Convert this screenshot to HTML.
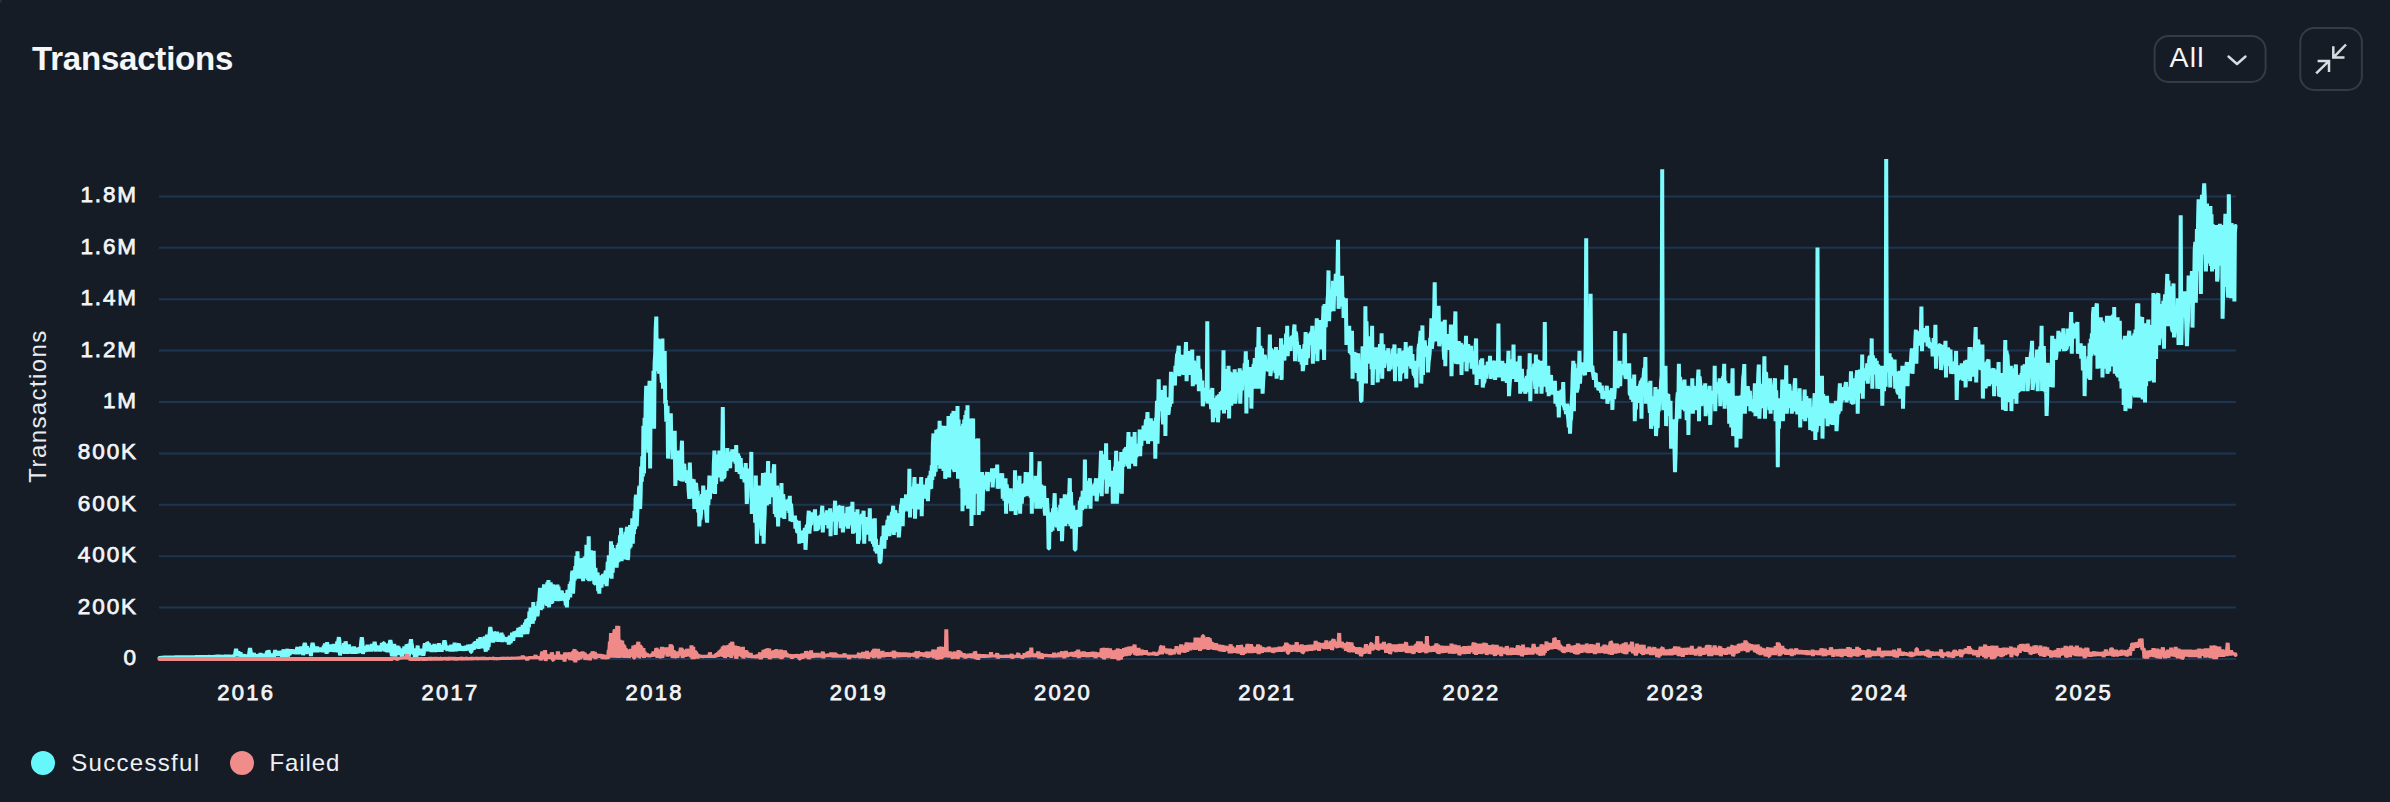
<!DOCTYPE html>
<html><head><meta charset="utf-8"><title>Transactions</title>
<style>
html,body{margin:0;padding:0;background:#161c26;}
body{width:2390px;height:802px;position:relative;overflow:hidden;font-family:"Liberation Sans",sans-serif;}
svg.chart{position:absolute;left:0;top:0;display:block;}
svg.chart text{font-family:"Liberation Sans",sans-serif;fill:#f3f5f7;}
.yl text{font-size:22.5px;font-weight:normal;text-anchor:end;letter-spacing:1.9px;stroke:#f3f5f7;stroke-width:0.75px;}
.xl text{font-size:22px;font-weight:normal;text-anchor:middle;letter-spacing:2.3px;stroke:#f3f5f7;stroke-width:0.75px;}
</style></head><body>
<svg class="chart" width="2390" height="802" viewBox="0 0 2390 802">
<g stroke="#1c3651" stroke-width="2"><line x1="159" x2="2236" y1="659.0" y2="659.0"/><line x1="159" x2="2236" y1="607.6" y2="607.6"/><line x1="159" x2="2236" y1="556.2" y2="556.2"/><line x1="159" x2="2236" y1="504.8" y2="504.8"/><line x1="159" x2="2236" y1="453.4" y2="453.4"/><line x1="159" x2="2236" y1="402.0" y2="402.0"/><line x1="159" x2="2236" y1="350.6" y2="350.6"/><line x1="159" x2="2236" y1="299.2" y2="299.2"/><line x1="159" x2="2236" y1="247.8" y2="247.8"/><line x1="159" x2="2236" y1="196.4" y2="196.4"/></g>
<g class="yl"><text x="138" y="665.0">0</text><text x="138" y="613.6">200K</text><text x="138" y="562.2">400K</text><text x="138" y="510.8">600K</text><text x="138" y="459.4">800K</text><text x="138" y="408.0">1M</text><text x="138" y="356.6">1.2M</text><text x="138" y="305.2">1.4M</text><text x="138" y="253.8">1.6M</text><text x="138" y="202.4">1.8M</text></g>
<g class="xl"><text x="246.3" y="700.2">2016</text><text x="450.5" y="700.2">2017</text><text x="654.7" y="700.2">2018</text><text x="858.9" y="700.2">2019</text><text x="1063.1" y="700.2">2020</text><text x="1267.3" y="700.2">2021</text><text x="1471.5" y="700.2">2022</text><text x="1675.7" y="700.2">2023</text><text x="1879.9" y="700.2">2024</text><text x="2084.1" y="700.2">2025</text></g>
<text transform="translate(46.2 406) rotate(-90)" text-anchor="middle" font-size="24" letter-spacing="1.4" style="fill:#e8ebef">Transactions</text>
<path d="M159.5 657.9 L160.1 657.9 L160.6 657.9 L161.2 657.8 L161.7 657.8 L162.3 657.7 L162.9 657.7 L163.4 657.6 L164.0 657.6 L164.5 657.6 L165.1 657.5 L165.6 657.5 L166.2 657.4 L166.8 657.4 L167.3 657.4 L167.9 657.4 L168.4 657.4 L169.0 657.4 L169.6 657.4 L170.1 657.4 L170.7 657.4 L171.2 657.4 L171.8 657.4 L172.4 657.4 L172.9 657.4 L173.5 657.4 L174.0 657.4 L174.6 657.4 L175.1 657.3 L175.7 657.3 L176.3 657.3 L176.8 657.3 L177.4 657.3 L177.9 657.3 L178.5 657.3 L179.1 657.3 L179.6 657.3 L180.2 657.3 L180.7 657.3 L181.3 657.3 L181.9 657.3 L182.4 657.3 L183.0 657.3 L183.5 657.3 L184.1 657.3 L184.6 657.3 L185.2 657.3 L185.8 657.3 L186.3 657.3 L186.9 657.3 L187.4 657.3 L188.0 657.3 L188.6 657.3 L189.1 657.3 L189.7 657.3 L190.2 657.2 L190.8 657.2 L191.4 657.2 L191.9 657.2 L192.5 657.2 L193.0 657.2 L193.6 657.2 L194.1 657.2 L194.7 657.2 L195.3 657.1 L195.8 657.1 L196.4 657.1 L196.9 657.1 L197.5 657.1 L198.1 657.1 L198.6 657.0 L199.2 657.1 L199.7 656.9 L200.3 657.1 L200.9 656.9 L201.4 657.1 L202.0 656.9 L202.5 657.0 L203.1 656.7 L203.6 657.0 L204.2 656.7 L204.8 657.0 L205.3 656.6 L205.9 657.0 L206.4 656.5 L207.0 657.1 L207.6 656.4 L208.1 657.0 L208.7 656.4 L209.2 656.9 L209.8 656.4 L210.4 657.0 L210.9 656.2 L211.5 657.1 L212.0 656.3 L212.6 657.1 L213.1 656.4 L213.7 656.9 L214.3 656.2 L214.8 656.8 L215.4 655.7 L215.9 656.7 L216.5 655.9 L217.1 656.6 L217.6 655.9 L218.2 656.6 L218.7 655.6 L219.3 656.7 L219.9 655.7 L220.4 656.5 L221.0 655.8 L221.5 656.7 L222.1 656.1 L222.6 656.7 L223.2 656.2 L223.8 656.7 L224.3 656.1 L224.9 656.5 L225.4 656.3 L226.0 656.7 L226.6 656.3 L227.1 656.6 L227.7 656.5 L228.2 656.7 L228.8 656.5 L229.4 656.7 L229.9 656.5 L230.5 656.7 L231.0 656.3 L231.6 656.7 L232.1 656.1 L232.7 656.6 L233.3 655.7 L233.8 656.3 L234.4 655.2 L234.9 656.2 L235.5 651.9 L236.1 648.9 L236.6 651.7 L237.2 655.9 L237.7 654.2 L238.3 651.4 L238.9 654.3 L239.4 656.3 L240.0 654.9 L240.5 652.2 L241.1 657.7 L241.6 657.5 L242.2 655.2 L242.8 659.5 L243.3 654.2 L243.9 656.3 L244.4 654.6 L245.0 656.6 L245.6 655.3 L246.1 656.0 L246.7 655.4 L247.2 656.6 L247.8 655.2 L248.4 656.4 L248.9 655.3 L249.5 651.3 L250.0 648.0 L250.6 651.2 L251.1 654.5 L251.7 656.4 L252.3 652.7 L252.8 656.9 L253.4 655.2 L253.9 653.1 L254.5 657.7 L255.1 656.8 L255.6 655.0 L256.2 657.2 L256.7 654.8 L257.3 656.9 L257.9 654.3 L258.4 657.9 L259.0 654.1 L259.5 657.6 L260.1 655.4 L260.6 653.1 L261.2 657.7 L261.8 657.3 L262.3 654.6 L262.9 657.6 L263.4 654.7 L264.0 656.7 L264.6 653.9 L265.1 656.3 L265.7 654.5 L266.2 656.6 L266.8 652.6 L267.4 651.4 L267.9 657.2 L268.5 650.2 L269.0 652.5 L269.6 656.4 L270.1 659.0 L270.7 657.0 L271.3 653.5 L271.8 656.3 L272.4 653.9 L272.9 656.3 L273.5 653.9 L274.1 656.8 L274.6 653.1 L275.2 650.1 L275.7 653.1 L276.3 655.0 L276.9 653.8 L277.4 655.0 L278.0 653.1 L278.5 655.9 L279.1 650.9 L279.6 655.1 L280.2 653.2 L280.8 654.7 L281.3 650.8 L281.9 655.8 L282.4 658.0 L283.0 656.1 L283.6 649.3 L284.1 655.9 L284.7 651.1 L285.2 655.5 L285.8 658.3 L286.4 654.5 L286.9 651.9 L287.5 648.9 L288.0 655.6 L288.6 655.2 L289.1 650.3 L289.7 654.9 L290.3 650.1 L290.8 653.5 L291.4 649.3 L291.9 653.4 L292.5 651.0 L293.1 652.6 L293.6 650.1 L294.2 654.0 L294.7 649.5 L295.3 653.3 L295.9 650.2 L296.4 654.2 L297.0 648.6 L297.5 647.2 L298.1 653.9 L298.6 652.0 L299.2 649.6 L299.8 652.6 L300.3 649.8 L300.9 646.5 L301.4 649.4 L302.0 654.1 L302.6 646.4 L303.1 655.2 L303.7 650.2 L304.2 645.2 L304.8 643.0 L305.4 645.2 L305.9 649.3 L306.5 654.1 L307.0 646.1 L307.6 653.2 L308.1 648.3 L308.7 652.4 L309.3 649.8 L309.8 651.6 L310.4 648.2 L310.9 656.0 L311.5 648.3 L312.1 645.2 L312.6 643.0 L313.2 645.2 L313.7 647.4 L314.3 652.3 L314.9 647.4 L315.4 652.0 L316.0 647.7 L316.5 652.4 L317.1 646.4 L317.6 652.2 L318.2 648.4 L318.8 651.1 L319.3 647.5 L319.9 651.3 L320.4 647.5 L321.0 651.6 L321.6 647.7 L322.1 651.9 L322.7 647.5 L323.2 652.3 L323.8 645.8 L324.4 652.1 L324.9 643.4 L325.5 652.3 L326.0 644.4 L326.6 653.8 L327.1 642.2 L327.7 652.2 L328.3 646.5 L328.8 651.9 L329.4 644.4 L329.9 650.9 L330.5 645.5 L331.1 651.6 L331.6 644.3 L332.2 651.5 L332.7 645.7 L333.3 651.7 L333.9 643.8 L334.4 652.2 L335.0 644.9 L335.5 650.3 L336.1 647.1 L336.6 651.4 L337.2 641.4 L337.8 652.3 L338.3 640.8 L338.9 637.2 L339.4 640.8 L340.0 655.5 L340.6 647.7 L341.1 651.0 L341.7 645.7 L342.2 650.6 L342.8 646.1 L343.4 652.9 L343.9 643.0 L344.5 653.9 L345.0 646.2 L345.6 641.4 L346.1 644.9 L346.7 650.7 L347.3 646.2 L347.8 653.8 L348.4 648.4 L348.9 644.6 L349.5 647.5 L350.1 651.1 L350.6 646.9 L351.2 652.9 L351.7 649.3 L352.3 653.8 L352.9 647.1 L353.4 652.2 L354.0 646.4 L354.5 653.9 L355.1 648.5 L355.6 653.8 L356.2 647.8 L356.8 653.2 L357.3 647.6 L357.9 653.2 L358.4 647.9 L359.0 651.7 L359.6 647.2 L360.1 652.9 L360.7 647.5 L361.2 641.8 L361.8 637.2 L362.4 641.7 L362.9 653.9 L363.5 651.1 L364.0 646.4 L364.6 652.1 L365.1 646.3 L365.7 650.4 L366.3 646.2 L366.8 651.7 L367.4 644.7 L367.9 651.4 L368.5 645.7 L369.1 651.5 L369.6 646.3 L370.2 650.3 L370.7 647.6 L371.3 651.5 L371.8 643.9 L372.4 649.4 L373.0 645.2 L373.5 650.5 L374.1 645.2 L374.6 641.9 L375.2 645.1 L375.8 651.6 L376.3 645.4 L376.9 650.2 L377.4 647.1 L378.0 650.8 L378.6 645.8 L379.1 649.7 L379.7 646.4 L380.2 651.6 L380.8 645.5 L381.3 650.2 L381.9 643.0 L382.5 649.2 L383.0 645.2 L383.6 643.1 L384.1 643.0 L384.7 651.4 L385.3 644.0 L385.8 651.6 L386.4 644.3 L386.9 652.0 L387.5 643.8 L388.1 652.3 L388.6 643.5 L389.2 651.6 L389.7 643.5 L390.3 640.1 L390.8 642.2 L391.4 652.7 L392.0 656.1 L392.5 653.1 L393.1 645.1 L393.6 651.9 L394.2 643.9 L394.8 652.4 L395.3 656.4 L395.9 651.5 L396.4 647.1 L397.0 652.5 L397.6 645.5 L398.1 655.2 L398.7 646.7 L399.2 654.2 L399.8 648.3 L400.3 654.3 L400.9 648.8 L401.5 653.4 L402.0 657.8 L402.6 652.9 L403.1 649.8 L403.7 653.3 L404.3 646.4 L404.8 653.9 L405.4 648.6 L405.9 654.0 L406.5 644.7 L407.1 645.5 L407.6 648.2 L408.2 654.0 L408.7 656.6 L409.3 652.7 L409.8 647.7 L410.4 643.2 L411.0 639.3 L411.5 643.1 L412.1 646.9 L412.6 653.7 L413.2 649.4 L413.8 654.4 L414.3 648.4 L414.9 657.9 L415.4 649.1 L416.0 654.6 L416.6 656.6 L417.1 652.3 L417.7 645.5 L418.2 655.2 L418.8 649.0 L419.3 654.0 L419.9 648.7 L420.5 654.3 L421.0 648.6 L421.6 653.0 L422.1 655.0 L422.7 651.7 L423.3 655.7 L423.8 652.9 L424.4 646.1 L424.9 643.5 L425.5 646.4 L426.1 651.2 L426.6 645.8 L427.2 642.7 L427.7 643.0 L428.3 651.4 L428.8 643.1 L429.4 649.4 L430.0 645.3 L430.5 650.8 L431.1 645.4 L431.6 652.0 L432.2 644.8 L432.8 651.6 L433.3 644.8 L433.9 651.1 L434.4 643.8 L435.0 652.2 L435.6 644.9 L436.1 649.5 L436.7 645.9 L437.2 650.8 L437.8 645.5 L438.3 651.8 L438.9 643.2 L439.5 651.6 L440.0 646.4 L440.6 651.5 L441.1 645.8 L441.7 651.8 L442.3 645.3 L442.8 649.8 L443.4 645.3 L443.9 642.9 L444.5 640.5 L445.1 642.9 L445.6 646.1 L446.2 649.5 L446.7 645.7 L447.3 650.9 L447.8 645.8 L448.4 649.7 L449.0 646.2 L449.5 650.6 L450.1 646.0 L450.6 651.5 L451.2 644.7 L451.8 651.4 L452.3 646.3 L452.9 651.5 L453.4 646.2 L454.0 650.4 L454.6 642.6 L455.1 650.8 L455.7 646.4 L456.2 651.2 L456.8 647.0 L457.3 649.2 L457.9 645.9 L458.5 644.5 L459.0 643.7 L459.6 650.8 L460.1 645.8 L460.7 650.3 L461.3 647.6 L461.8 650.7 L462.4 646.2 L462.9 650.8 L463.5 647.4 L464.1 650.5 L464.6 646.2 L465.2 650.7 L465.7 645.8 L466.3 649.9 L466.8 645.7 L467.4 650.5 L468.0 644.7 L468.5 650.5 L469.1 645.9 L469.6 648.5 L470.2 644.5 L470.8 651.9 L471.3 651.9 L471.9 649.2 L472.4 644.1 L473.0 649.8 L473.6 643.4 L474.1 649.5 L474.7 641.8 L475.2 647.3 L475.8 641.2 L476.3 647.6 L476.9 641.2 L477.5 647.8 L478.0 638.8 L478.6 648.9 L479.1 640.4 L479.7 646.7 L480.3 637.1 L480.8 647.0 L481.4 640.5 L481.9 648.4 L482.5 638.2 L483.1 647.2 L483.6 640.0 L484.2 647.2 L484.7 636.3 L485.3 648.0 L485.8 651.6 L486.4 645.2 L487.0 634.6 L487.5 650.2 L488.1 636.2 L488.6 647.1 L489.2 638.1 L489.8 631.1 L490.3 627.1 L490.9 631.0 L491.4 638.6 L492.0 641.8 L492.6 634.6 L493.1 642.5 L493.7 634.4 L494.2 632.1 L494.8 633.0 L495.3 641.3 L495.9 636.6 L496.5 640.4 L497.0 631.7 L497.6 641.7 L498.1 634.4 L498.7 641.9 L499.3 634.2 L499.8 641.7 L500.4 633.9 L500.9 639.9 L501.5 632.6 L502.1 642.2 L502.6 634.7 L503.2 639.5 L503.7 637.2 L504.3 640.6 L504.8 637.2 L505.4 640.9 L506.0 637.8 L506.5 642.1 L507.1 637.2 L507.6 641.8 L508.2 637.3 L508.8 644.6 L509.3 637.3 L509.9 636.3 L510.4 643.0 L511.0 641.1 L511.6 637.2 L512.1 632.8 L512.7 636.9 L513.2 640.8 L513.8 634.8 L514.3 631.8 L514.9 632.7 L515.5 637.0 L516.0 631.5 L516.6 636.7 L517.1 630.6 L517.7 635.1 L518.3 627.9 L518.8 637.2 L519.4 628.4 L519.9 636.3 L520.5 627.0 L521.1 637.2 L521.6 627.9 L522.2 634.5 L522.7 624.8 L523.3 634.4 L523.8 626.4 L524.4 633.5 L525.0 622.6 L525.5 631.7 L526.1 621.1 L526.6 619.6 L527.2 633.8 L527.8 630.8 L528.3 618.1 L528.9 627.5 L529.4 611.5 L530.0 622.3 L530.6 607.6 L531.1 623.4 L531.7 610.9 L532.2 619.9 L532.8 623.6 L533.3 602.0 L533.9 620.4 L534.5 616.8 L535.0 607.9 L535.6 616.3 L536.1 608.4 L536.7 606.2 L537.3 616.2 L537.8 613.9 L538.4 601.4 L538.9 605.7 L539.5 595.4 L540.1 587.8 L540.6 609.5 L541.2 608.4 L541.7 591.3 L542.3 608.6 L542.8 588.8 L543.4 602.2 L544.0 584.3 L544.5 604.2 L545.1 585.2 L545.6 600.2 L546.2 586.5 L546.8 605.8 L547.3 582.2 L547.9 606.0 L548.4 580.0 L549.0 607.4 L549.6 587.0 L550.1 604.1 L550.7 582.2 L551.2 604.0 L551.8 585.6 L552.3 603.2 L552.9 584.3 L553.5 596.9 L554.0 585.3 L554.6 598.1 L555.1 587.9 L555.7 600.9 L556.3 585.7 L556.8 600.3 L557.4 584.5 L557.9 601.2 L558.5 586.7 L559.1 600.9 L559.6 592.3 L560.2 600.9 L560.7 590.4 L561.3 599.9 L561.8 590.7 L562.4 599.0 L563.0 593.3 L563.5 599.9 L564.1 595.9 L564.6 601.0 L565.2 597.4 L565.8 605.4 L566.3 593.2 L566.9 607.4 L567.4 589.7 L568.0 599.6 L568.6 590.6 L569.1 596.8 L569.7 584.0 L570.2 597.3 L570.8 581.6 L571.3 593.8 L571.9 574.3 L572.5 570.8 L573.0 593.7 L573.6 583.9 L574.1 570.5 L574.7 580.5 L575.3 566.2 L575.8 575.8 L576.4 556.0 L576.9 573.4 L577.5 551.3 L578.1 578.7 L578.6 558.4 L579.2 576.3 L579.7 562.1 L580.3 572.8 L580.8 562.5 L581.4 578.7 L582.0 560.8 L582.5 558.3 L583.1 581.2 L583.6 574.9 L584.2 557.5 L584.8 577.5 L585.3 556.3 L585.9 578.4 L586.4 544.7 L587.0 570.1 L587.6 545.5 L588.1 579.9 L588.7 536.3 L589.2 581.2 L589.8 552.7 L590.3 574.1 L590.9 550.4 L591.5 580.7 L592.0 552.3 L592.6 579.9 L593.1 559.5 L593.7 550.8 L594.3 583.7 L594.8 583.6 L595.4 567.8 L595.9 579.0 L596.5 572.4 L597.1 582.8 L597.6 572.5 L598.2 591.1 L598.7 575.7 L599.3 593.7 L599.8 580.4 L600.4 587.6 L601.0 575.3 L601.5 587.6 L602.1 578.6 L602.6 584.0 L603.2 573.9 L603.8 583.6 L604.3 574.3 L604.9 582.4 L605.4 572.5 L606.0 570.8 L606.6 586.2 L607.1 577.5 L607.7 561.8 L608.2 576.7 L608.8 555.4 L609.3 577.7 L609.9 559.6 L610.5 576.1 L611.0 541.3 L611.6 578.7 L612.1 544.8 L612.7 572.7 L613.3 548.1 L613.8 563.0 L614.4 554.3 L614.9 566.8 L615.5 551.3 L616.1 550.8 L616.6 567.5 L617.2 558.9 L617.7 545.0 L618.3 562.2 L618.8 543.4 L619.4 560.3 L620.0 535.2 L620.5 556.8 L621.1 527.9 L621.6 561.3 L622.2 537.8 L622.8 550.0 L623.3 539.9 L623.9 557.7 L624.4 534.2 L625.0 559.4 L625.6 531.7 L626.1 559.2 L626.7 529.0 L627.2 527.1 L627.8 560.0 L628.3 555.2 L628.9 531.2 L629.5 548.6 L630.0 525.1 L630.6 547.1 L631.1 527.9 L631.7 538.0 L632.3 518.4 L632.8 543.8 L633.4 518.4 L633.9 534.3 L634.5 510.7 L635.1 529.2 L635.6 498.6 L636.2 494.7 L636.7 526.4 L637.3 513.1 L637.8 496.5 L638.4 508.2 L639.0 488.6 L639.5 486.0 L640.1 508.9 L640.6 496.1 L641.2 466.5 L641.8 481.7 L642.3 456.4 L642.9 476.5 L643.4 425.7 L644.0 473.6 L644.6 417.7 L645.1 449.3 L645.7 402.5 L646.2 385.8 L646.8 438.7 L647.3 426.3 L647.9 391.0 L648.5 452.8 L649.0 392.9 L649.6 380.8 L650.1 468.6 L650.7 396.3 L651.3 383.8 L651.8 381.9 L652.4 400.5 L652.9 417.0 L653.5 370.8 L654.1 428.7 L654.6 363.3 L655.2 353.8 L655.7 328.9 L656.3 316.5 L656.8 371.3 L657.4 339.8 L658.0 339.5 L658.5 340.9 L659.1 373.8 L659.6 364.6 L660.2 349.3 L660.8 357.3 L661.3 373.8 L661.9 382.6 L662.4 338.4 L663.0 388.8 L663.6 357.3 L664.1 371.4 L664.7 350.9 L665.2 403.7 L665.8 400.1 L666.3 421.7 L666.9 418.5 L667.5 405.7 L668.0 458.6 L668.6 422.6 L669.1 440.5 L669.7 420.3 L670.3 418.6 L670.8 413.2 L671.4 448.6 L671.9 439.2 L672.5 459.2 L673.1 455.3 L673.6 437.3 L674.2 436.3 L674.7 430.7 L675.3 486.0 L675.8 477.3 L676.4 454.1 L677.0 468.9 L677.5 465.0 L678.1 463.3 L678.6 450.6 L679.2 479.6 L679.8 479.2 L680.3 474.4 L680.9 463.2 L681.4 453.2 L682.0 440.7 L682.6 481.5 L683.1 475.2 L683.7 464.9 L684.2 464.0 L684.8 472.1 L685.3 471.6 L685.9 470.6 L686.5 474.0 L687.0 482.9 L687.6 476.3 L688.1 479.2 L688.7 491.3 L689.3 498.9 L689.8 462.6 L690.4 479.5 L690.9 485.6 L691.5 498.4 L692.1 478.8 L692.6 497.6 L693.2 485.8 L693.7 479.2 L694.3 508.9 L694.8 482.8 L695.4 486.7 L696.0 483.0 L696.5 489.2 L697.1 505.8 L697.6 490.7 L698.2 512.4 L698.8 497.1 L699.3 526.4 L699.9 516.2 L700.4 519.5 L701.0 513.7 L701.6 499.7 L702.1 494.3 L702.7 509.6 L703.2 485.5 L703.8 495.3 L704.3 490.7 L704.9 495.8 L705.5 501.5 L706.0 508.8 L706.6 518.4 L707.1 522.6 L707.7 489.7 L708.3 505.1 L708.8 495.5 L709.4 475.6 L709.9 499.3 L710.5 480.6 L711.1 492.1 L711.6 476.9 L712.2 493.4 L712.7 478.7 L713.3 492.3 L713.8 464.8 L714.4 450.6 L715.0 493.9 L715.5 466.4 L716.1 483.9 L716.6 467.2 L717.2 454.6 L717.8 461.6 L718.3 477.3 L718.9 468.2 L719.4 450.6 L720.0 467.3 L720.6 460.9 L721.1 455.6 L721.7 481.5 L722.2 457.5 L722.8 407.0 L723.3 477.5 L723.9 477.3 L724.5 477.0 L725.0 460.4 L725.6 467.5 L726.1 457.9 L726.7 470.9 L727.3 448.1 L727.8 456.2 L728.4 451.7 L728.9 466.4 L729.5 463.5 L730.1 468.2 L730.6 457.0 L731.2 458.1 L731.7 457.1 L732.3 449.4 L732.8 459.7 L733.4 461.2 L734.0 452.3 L734.5 450.1 L735.1 450.3 L735.6 463.8 L736.2 445.1 L736.8 472.0 L737.3 458.8 L737.9 453.6 L738.4 457.1 L739.0 455.7 L739.6 474.0 L740.1 470.4 L740.7 458.1 L741.2 471.0 L741.8 478.9 L742.3 467.7 L742.9 476.2 L743.5 478.8 L744.0 476.5 L744.6 482.3 L745.1 478.3 L745.7 463.1 L746.3 482.8 L746.8 503.9 L747.4 495.8 L747.9 473.3 L748.5 468.5 L749.1 484.2 L749.6 470.0 L750.2 483.1 L750.7 486.4 L751.3 451.9 L751.8 513.9 L752.4 499.4 L753.0 497.9 L753.5 494.6 L754.1 496.7 L754.6 500.1 L755.2 522.8 L755.8 475.6 L756.3 505.2 L756.9 543.8 L757.4 521.3 L758.0 500.3 L758.6 494.2 L759.1 495.4 L759.7 485.5 L760.2 497.5 L760.8 492.9 L761.3 528.2 L761.9 535.6 L762.5 493.0 L763.0 473.1 L763.6 543.8 L764.1 525.7 L764.7 513.7 L765.3 481.8 L765.8 472.5 L766.4 476.4 L766.9 505.5 L767.5 485.9 L768.1 461.1 L768.6 498.7 L769.2 503.9 L769.7 477.6 L770.3 473.4 L770.8 496.4 L771.4 479.5 L772.0 497.1 L772.5 492.9 L773.1 479.0 L773.6 469.4 L774.2 464.3 L774.8 513.9 L775.3 491.3 L775.9 512.9 L776.4 517.0 L777.0 485.5 L777.6 502.3 L778.1 526.4 L778.7 499.1 L779.2 497.9 L779.8 508.8 L780.3 493.4 L780.9 496.2 L781.5 483.0 L782.0 517.7 L782.6 505.6 L783.1 494.2 L783.7 500.4 L784.3 518.9 L784.8 504.0 L785.4 503.4 L785.9 499.9 L786.5 508.1 L787.0 510.4 L787.6 506.4 L788.2 500.9 L788.7 499.3 L789.3 512.8 L789.8 495.7 L790.4 521.1 L791.0 503.6 L791.5 509.4 L792.1 519.0 L792.6 521.7 L793.2 519.3 L793.8 516.6 L794.3 521.8 L794.9 515.7 L795.4 528.6 L796.0 519.8 L796.5 525.7 L797.1 531.6 L797.7 532.3 L798.2 528.5 L798.8 520.7 L799.3 543.6 L799.9 535.8 L800.5 537.9 L801.0 540.6 L801.6 542.6 L802.1 531.1 L802.7 531.7 L803.3 532.3 L803.8 533.5 L804.4 532.2 L804.9 528.1 L805.5 549.8 L806.0 541.2 L806.6 526.3 L807.2 525.2 L807.7 530.2 L808.3 517.2 L808.8 510.7 L809.4 533.6 L810.0 526.4 L810.5 515.2 L811.1 525.2 L811.6 516.3 L812.2 512.6 L812.8 517.5 L813.3 521.0 L813.9 520.2 L814.4 515.3 L815.0 509.4 L815.5 531.1 L816.1 519.8 L816.7 524.7 L817.2 528.3 L817.8 528.9 L818.3 528.9 L818.9 515.8 L819.5 519.9 L820.0 522.6 L820.6 514.8 L821.1 524.9 L821.7 512.8 L822.3 505.7 L822.8 532.4 L823.4 521.9 L823.9 517.8 L824.5 519.7 L825.0 513.4 L825.6 524.8 L826.2 518.2 L826.7 512.7 L827.3 510.6 L827.8 516.7 L828.4 528.5 L829.0 521.9 L829.5 527.3 L830.1 508.2 L830.6 536.1 L831.2 512.7 L831.8 514.7 L832.3 512.6 L832.9 515.4 L833.4 514.8 L834.0 521.4 L834.5 512.0 L835.1 500.7 L835.7 534.9 L836.2 517.3 L836.8 521.2 L837.3 508.7 L837.9 512.5 L838.5 506.4 L839.0 506.7 L839.6 507.0 L840.1 514.8 L840.7 528.2 L841.3 525.9 L841.8 518.4 L842.4 505.7 L842.9 532.4 L843.5 525.2 L844.0 513.3 L844.6 519.6 L845.2 523.5 L845.7 514.9 L846.3 519.8 L846.8 526.4 L847.4 506.9 L848.0 528.6 L848.5 523.8 L849.1 511.3 L849.6 525.2 L850.2 510.6 L850.8 506.6 L851.3 517.2 L851.9 519.3 L852.4 501.9 L853.0 533.6 L853.5 518.2 L854.1 512.2 L854.7 517.8 L855.2 532.6 L855.8 523.8 L856.3 518.8 L856.9 518.5 L857.5 509.4 L858.0 543.6 L858.6 539.7 L859.1 540.0 L859.7 522.4 L860.3 523.7 L860.8 515.4 L861.4 520.2 L861.9 513.9 L862.5 521.0 L863.0 517.6 L863.6 510.7 L864.2 543.6 L864.7 530.2 L865.3 532.7 L865.8 533.9 L866.4 517.2 L867.0 534.6 L867.5 517.0 L868.1 528.3 L868.6 534.2 L869.2 530.5 L869.8 508.2 L870.3 541.1 L870.9 518.8 L871.4 525.6 L872.0 535.5 L872.5 541.0 L873.1 543.6 L873.7 540.3 L874.2 546.5 L874.8 518.2 L875.3 551.1 L875.9 538.9 L876.5 551.4 L877.0 553.1 L877.6 545.2 L878.1 550.8 L878.7 548.6 L879.3 554.2 L879.8 562.3 L880.4 562.3 L880.9 555.6 L881.5 543.0 L882.0 537.9 L882.6 537.0 L883.2 545.3 L883.7 525.6 L884.3 548.6 L884.8 534.6 L885.4 537.0 L886.0 539.8 L886.5 525.4 L887.1 525.6 L887.6 519.9 L888.2 523.9 L888.8 515.7 L889.3 536.1 L889.9 530.3 L890.4 520.9 L891.0 520.2 L891.5 515.6 L892.1 512.5 L892.7 512.6 L893.2 505.7 L893.8 534.9 L894.3 516.4 L894.9 510.9 L895.5 511.7 L896.0 518.2 L896.6 521.7 L897.1 532.2 L897.7 519.9 L898.3 513.2 L898.8 537.4 L899.4 529.3 L899.9 518.1 L900.5 512.7 L901.0 505.8 L901.6 504.3 L902.2 498.2 L902.7 526.1 L903.3 500.5 L903.8 511.5 L904.4 506.1 L905.0 508.6 L905.5 503.0 L906.1 494.5 L906.6 508.7 L907.2 497.4 L907.8 508.8 L908.3 511.1 L908.9 500.9 L909.4 468.8 L910.0 517.4 L910.5 486.9 L911.1 503.0 L911.7 506.0 L912.2 492.8 L912.8 493.1 L913.3 508.7 L913.9 489.7 L914.5 477.0 L915.0 518.7 L915.6 501.9 L916.1 492.4 L916.7 490.7 L917.3 483.8 L917.8 491.7 L918.4 506.9 L918.9 509.1 L919.5 503.0 L920.0 488.8 L920.6 491.1 L921.2 477.0 L921.7 516.2 L922.3 488.5 L922.8 491.2 L923.4 486.5 L924.0 486.5 L924.5 487.7 L925.1 498.7 L925.6 493.0 L926.2 490.3 L926.8 483.8 L927.3 478.3 L927.9 501.2 L928.4 490.3 L929.0 479.1 L929.5 475.8 L930.1 489.3 L930.7 470.8 L931.2 488.7 L931.8 465.2 L932.3 480.0 L932.9 443.2 L933.5 433.4 L934.0 476.3 L934.6 469.1 L935.1 444.4 L935.7 471.6 L936.3 429.8 L936.8 459.9 L937.4 441.8 L937.9 460.5 L938.5 428.9 L939.0 464.9 L939.6 420.9 L940.2 468.8 L940.7 425.5 L941.3 465.4 L941.8 435.5 L942.4 465.4 L943.0 425.8 L943.5 471.1 L944.1 428.3 L944.6 425.9 L945.2 478.8 L945.8 466.9 L946.3 427.8 L946.9 470.5 L947.4 425.7 L948.0 469.7 L948.5 415.9 L949.1 477.5 L949.7 417.1 L950.2 469.5 L950.8 425.3 L951.3 466.4 L951.9 413.4 L952.5 462.9 L953.0 415.6 L953.6 410.9 L954.1 470.0 L954.7 471.7 L955.3 432.6 L955.8 467.2 L956.4 411.3 L956.9 463.7 L957.5 405.9 L958.0 478.8 L958.6 419.5 L959.2 477.1 L959.7 441.4 L960.3 478.3 L960.8 427.8 L961.4 488.3 L962.0 425.9 L962.5 511.2 L963.1 423.7 L963.6 505.7 L964.2 419.5 L964.8 478.8 L965.3 414.9 L965.9 477.0 L966.4 410.4 L967.0 505.0 L967.5 405.2 L968.1 508.7 L968.7 422.8 L969.2 483.3 L969.8 423.8 L970.3 503.4 L970.9 418.4 L971.5 526.1 L972.0 445.2 L972.6 440.5 L973.1 418.4 L973.7 514.9 L974.3 450.9 L974.8 493.6 L975.4 449.3 L975.9 444.2 L976.5 438.8 L977.0 456.4 L977.6 465.9 L978.2 438.4 L978.7 514.9 L979.3 507.7 L979.8 480.4 L980.4 484.0 L981.0 504.2 L981.5 507.3 L982.1 472.0 L982.6 511.2 L983.2 482.4 L983.8 481.6 L984.3 475.3 L984.9 486.4 L985.4 489.2 L986.0 485.0 L986.5 478.3 L987.1 472.0 L987.7 491.2 L988.2 478.7 L988.8 481.2 L989.3 476.6 L989.9 472.5 L990.5 474.8 L991.0 481.8 L991.6 475.8 L992.1 468.3 L992.7 487.5 L993.3 474.8 L993.8 475.8 L994.4 471.9 L994.9 468.7 L995.5 469.4 L996.0 475.9 L996.6 477.7 L997.2 464.5 L997.7 488.7 L998.3 482.9 L998.8 476.1 L999.4 473.3 L1000.0 488.0 L1000.5 487.2 L1001.1 483.9 L1001.6 477.7 L1002.2 473.3 L1002.8 498.7 L1003.3 493.7 L1003.9 492.6 L1004.4 500.6 L1005.0 490.8 L1005.5 478.3 L1006.1 513.7 L1006.7 484.4 L1007.2 491.1 L1007.8 502.9 L1008.3 497.3 L1008.9 495.9 L1009.5 498.3 L1010.0 503.3 L1010.6 488.2 L1011.1 511.2 L1011.7 500.7 L1012.3 493.8 L1012.8 504.6 L1013.4 499.1 L1013.9 508.7 L1014.5 510.3 L1015.0 470.3 L1015.6 514.9 L1016.2 497.7 L1016.7 480.4 L1017.3 503.3 L1017.8 509.9 L1018.4 503.1 L1019.0 508.1 L1019.5 475.8 L1020.1 513.7 L1020.6 495.4 L1021.2 497.4 L1021.8 503.6 L1022.3 487.1 L1022.9 484.2 L1023.4 497.2 L1024.0 488.4 L1024.5 483.1 L1025.1 488.2 L1025.7 472.0 L1026.2 496.2 L1026.8 473.0 L1027.3 478.6 L1027.9 495.5 L1028.5 488.6 L1029.0 480.9 L1029.6 480.7 L1030.1 472.2 L1030.7 497.7 L1031.3 452.1 L1031.8 513.7 L1032.4 480.3 L1032.9 485.6 L1033.5 498.7 L1034.0 502.1 L1034.6 487.2 L1035.2 492.2 L1035.7 475.8 L1036.3 508.7 L1036.8 481.8 L1037.4 491.0 L1038.0 502.7 L1038.5 492.9 L1039.1 472.7 L1039.6 461.3 L1040.2 508.7 L1040.8 494.7 L1041.3 484.7 L1041.9 494.8 L1042.4 488.4 L1043.0 504.4 L1043.5 506.5 L1044.1 485.7 L1044.7 511.2 L1045.2 515.4 L1045.8 512.4 L1046.3 506.4 L1046.9 498.0 L1047.5 507.8 L1048.0 514.3 L1048.6 548.6 L1049.1 548.6 L1049.7 512.4 L1050.3 518.1 L1050.8 531.8 L1051.4 522.7 L1051.9 521.6 L1052.5 530.6 L1053.0 508.3 L1053.6 517.9 L1054.2 503.0 L1054.7 493.2 L1055.3 526.1 L1055.8 507.3 L1056.4 522.9 L1057.0 527.2 L1057.5 513.0 L1058.1 518.8 L1058.6 528.2 L1059.2 530.7 L1059.8 518.6 L1060.3 504.9 L1060.9 525.7 L1061.4 498.2 L1062.0 541.1 L1062.5 526.5 L1063.1 517.8 L1063.7 515.8 L1064.2 513.9 L1064.8 494.4 L1065.3 526.1 L1065.9 504.3 L1066.5 520.1 L1067.0 519.9 L1067.6 522.0 L1068.1 521.9 L1068.7 498.2 L1069.3 491.2 L1069.8 478.2 L1070.4 526.1 L1070.9 492.1 L1071.5 510.3 L1072.0 528.6 L1072.6 523.1 L1073.2 505.6 L1073.7 520.1 L1074.3 518.2 L1074.8 549.8 L1075.4 549.8 L1076.0 532.2 L1076.5 510.9 L1077.1 513.7 L1077.6 510.0 L1078.2 522.4 L1078.8 526.9 L1079.3 516.6 L1079.9 500.7 L1080.4 526.1 L1081.0 498.4 L1081.5 497.7 L1082.1 510.3 L1082.7 490.9 L1083.2 506.3 L1083.8 495.2 L1084.3 503.9 L1084.9 459.5 L1085.5 508.7 L1086.0 494.4 L1086.6 480.9 L1087.1 501.9 L1087.7 486.9 L1088.3 495.3 L1088.8 504.8 L1089.4 491.4 L1089.9 478.2 L1090.5 508.7 L1091.0 485.6 L1091.6 490.6 L1092.2 485.8 L1092.7 488.0 L1093.3 495.4 L1093.8 492.7 L1094.4 483.6 L1095.0 486.0 L1095.5 483.4 L1096.1 478.2 L1096.6 501.2 L1097.2 494.4 L1097.8 478.4 L1098.3 484.8 L1098.9 489.6 L1099.4 492.7 L1100.0 479.8 L1100.5 467.8 L1101.1 450.8 L1101.7 496.2 L1102.2 475.6 L1102.8 455.8 L1103.3 461.9 L1103.9 456.2 L1104.5 454.7 L1105.0 457.8 L1105.6 479.5 L1106.1 443.3 L1106.7 493.7 L1107.3 480.7 L1107.8 470.0 L1108.4 470.5 L1108.9 460.1 L1109.5 482.5 L1110.0 486.5 L1110.6 479.8 L1111.2 483.0 L1111.7 482.5 L1112.3 470.8 L1112.8 503.7 L1113.4 478.6 L1114.0 481.0 L1114.5 485.5 L1115.1 466.9 L1115.6 468.8 L1116.2 450.8 L1116.8 503.7 L1117.3 493.7 L1117.9 480.4 L1118.4 461.2 L1119.0 484.6 L1119.5 492.3 L1120.1 488.9 L1120.7 490.0 L1121.2 452.0 L1121.8 493.7 L1122.3 465.5 L1122.9 467.0 L1123.5 454.8 L1124.0 454.3 L1124.6 449.3 L1125.1 449.7 L1125.7 448.7 L1126.3 447.8 L1126.8 460.9 L1127.4 466.4 L1127.9 448.3 L1128.5 432.1 L1129.0 468.8 L1129.6 443.5 L1130.2 444.9 L1130.7 438.6 L1131.3 437.1 L1131.8 444.3 L1132.4 460.5 L1133.0 463.3 L1133.5 455.9 L1134.1 459.5 L1134.6 432.1 L1135.2 466.3 L1135.8 443.7 L1136.3 457.4 L1136.9 449.7 L1137.4 445.2 L1138.0 446.3 L1138.5 452.9 L1139.1 453.0 L1139.7 429.6 L1140.2 456.3 L1140.8 430.7 L1141.3 446.0 L1141.9 433.5 L1142.5 435.1 L1143.0 438.0 L1143.6 425.6 L1144.1 440.6 L1144.7 434.4 L1145.3 430.8 L1145.8 421.1 L1146.4 419.8 L1146.9 423.4 L1147.5 412.1 L1148.0 443.8 L1148.6 434.6 L1149.2 427.1 L1149.7 430.3 L1150.3 421.3 L1150.8 418.4 L1151.4 441.3 L1152.0 424.3 L1152.5 422.6 L1153.1 425.0 L1153.6 438.2 L1154.2 435.4 L1154.8 420.9 L1155.3 458.8 L1155.9 417.7 L1156.4 422.1 L1157.0 400.9 L1157.5 443.8 L1158.1 413.9 L1158.7 379.4 L1159.2 411.0 L1159.8 405.8 L1160.3 407.8 L1160.9 406.8 L1161.5 390.2 L1162.0 392.7 L1162.6 416.8 L1163.1 424.3 L1163.7 409.1 L1164.3 404.5 L1164.8 385.6 L1165.4 436.0 L1165.9 403.6 L1166.5 413.0 L1167.0 397.4 L1167.6 408.1 L1168.2 414.7 L1168.7 412.3 L1169.3 405.2 L1169.8 406.8 L1170.4 397.4 L1171.0 371.9 L1171.5 403.6 L1172.1 373.2 L1172.6 381.7 L1173.2 383.4 L1173.8 382.0 L1174.3 381.7 L1174.9 385.5 L1175.4 365.7 L1176.0 374.8 L1176.5 362.6 L1177.1 354.4 L1177.7 353.8 L1178.2 350.5 L1178.8 345.7 L1179.3 376.1 L1179.9 354.6 L1180.5 362.1 L1181.0 374.1 L1181.6 364.1 L1182.1 359.0 L1182.7 354.8 L1183.3 371.7 L1183.8 374.7 L1184.4 364.1 L1184.9 368.0 L1185.5 353.1 L1186.0 342.0 L1186.6 381.1 L1187.2 361.4 L1187.7 370.3 L1188.3 370.5 L1188.8 356.0 L1189.4 355.0 L1190.0 351.1 L1190.5 375.0 L1191.1 359.8 L1191.6 361.1 L1192.2 349.5 L1192.8 386.1 L1193.3 373.0 L1193.9 360.6 L1194.4 367.0 L1195.0 380.4 L1195.5 374.9 L1196.1 384.1 L1196.7 382.6 L1197.2 377.6 L1197.8 376.7 L1198.3 355.7 L1198.9 391.1 L1199.5 369.8 L1200.0 370.4 L1200.6 386.3 L1201.1 390.6 L1201.7 385.5 L1202.2 380.6 L1202.8 406.1 L1203.4 402.5 L1203.9 387.7 L1204.5 393.1 L1205.0 397.7 L1205.6 398.3 L1206.2 400.8 L1206.7 395.1 L1207.3 321.3 L1207.8 403.6 L1208.4 395.9 L1209.0 399.2 L1209.5 400.8 L1210.1 389.9 L1210.6 401.8 L1211.2 409.2 L1211.7 392.9 L1212.3 388.1 L1212.9 422.3 L1213.4 405.5 L1214.0 405.3 L1214.5 417.7 L1215.1 407.7 L1215.7 398.1 L1216.2 406.5 L1216.8 401.6 L1217.3 395.6 L1217.9 422.3 L1218.5 414.2 L1219.0 394.2 L1219.6 397.5 L1220.1 410.1 L1220.7 392.0 L1221.2 395.7 L1221.8 392.4 L1222.4 391.7 L1222.9 398.4 L1223.5 350.2 L1224.0 413.5 L1224.6 376.7 L1225.2 398.2 L1225.7 369.1 L1226.3 391.5 L1226.8 409.8 L1227.4 407.0 L1228.0 403.9 L1228.5 365.7 L1229.1 418.5 L1229.6 371.9 L1230.2 374.9 L1230.7 394.5 L1231.3 405.6 L1231.9 382.1 L1232.4 380.6 L1233.0 372.6 L1233.5 396.3 L1234.1 387.0 L1234.7 369.4 L1235.2 403.6 L1235.8 398.8 L1236.3 377.8 L1236.9 372.5 L1237.5 376.8 L1238.0 378.1 L1238.6 388.6 L1239.1 393.0 L1239.7 368.2 L1240.2 403.6 L1240.8 389.8 L1241.4 375.4 L1241.9 390.5 L1242.5 370.6 L1243.0 381.7 L1243.6 372.3 L1244.2 377.1 L1244.7 363.4 L1245.3 367.3 L1245.8 351.2 L1246.4 413.5 L1247.0 359.8 L1247.5 397.1 L1248.1 389.6 L1248.6 367.5 L1249.2 386.9 L1249.7 384.3 L1250.3 384.5 L1250.9 366.9 L1251.4 408.6 L1252.0 372.9 L1252.5 374.7 L1253.1 370.9 L1253.7 364.2 L1254.2 368.2 L1254.8 358.2 L1255.3 388.6 L1255.9 368.2 L1256.5 372.2 L1257.0 347.3 L1257.6 356.7 L1258.1 352.9 L1258.7 327.0 L1259.2 388.6 L1259.8 366.6 L1260.4 345.9 L1260.9 371.3 L1261.5 366.9 L1262.0 348.2 L1262.6 393.6 L1263.2 381.0 L1263.7 373.6 L1264.3 356.3 L1264.8 354.8 L1265.4 363.5 L1266.0 363.6 L1266.5 361.7 L1267.1 368.7 L1267.6 370.7 L1268.2 369.0 L1268.7 371.3 L1269.3 358.3 L1269.9 334.5 L1270.4 376.1 L1271.0 370.4 L1271.5 350.0 L1272.1 350.2 L1272.7 370.4 L1273.2 360.3 L1273.8 353.3 L1274.3 359.9 L1274.9 359.1 L1275.5 372.8 L1276.0 347.0 L1276.6 378.6 L1277.1 371.8 L1277.7 375.2 L1278.2 358.1 L1278.8 350.2 L1279.4 363.1 L1279.9 373.0 L1280.5 372.7 L1281.0 338.2 L1281.6 379.9 L1282.2 345.7 L1282.7 345.3 L1283.3 352.4 L1283.8 358.3 L1284.4 360.4 L1285.0 347.4 L1285.5 348.7 L1286.1 333.7 L1286.6 350.5 L1287.2 325.8 L1287.7 356.2 L1288.3 343.2 L1288.9 337.4 L1289.4 344.3 L1290.0 348.4 L1290.5 350.8 L1291.1 338.5 L1291.7 337.3 L1292.2 336.6 L1292.8 336.8 L1293.3 345.0 L1293.9 330.8 L1294.5 324.5 L1295.0 361.2 L1295.6 331.7 L1296.1 333.7 L1296.7 340.4 L1297.2 344.4 L1297.8 351.4 L1298.4 347.2 L1298.9 345.1 L1299.5 361.6 L1300.0 350.4 L1300.6 349.4 L1301.2 352.5 L1301.7 364.4 L1302.3 350.7 L1302.8 371.1 L1303.4 366.0 L1304.0 352.1 L1304.5 344.2 L1305.1 350.5 L1305.6 332.0 L1306.2 364.9 L1306.7 353.2 L1307.3 349.5 L1307.9 358.1 L1308.4 343.0 L1309.0 335.3 L1309.5 335.0 L1310.1 338.0 L1310.7 344.8 L1311.2 331.5 L1311.8 337.4 L1312.3 325.8 L1312.9 363.7 L1313.5 331.2 L1314.0 343.6 L1314.6 343.7 L1315.1 350.2 L1315.7 353.4 L1316.2 338.2 L1316.8 318.3 L1317.4 361.2 L1317.9 336.5 L1318.5 340.9 L1319.0 348.6 L1319.6 323.3 L1320.2 320.2 L1320.7 327.6 L1321.3 349.3 L1321.8 341.7 L1322.4 334.2 L1323.0 320.4 L1323.5 305.8 L1324.1 359.9 L1324.6 304.0 L1325.2 319.2 L1325.7 327.4 L1326.3 305.6 L1326.9 315.6 L1327.4 303.5 L1328.0 294.2 L1328.5 270.4 L1329.1 321.3 L1329.7 295.6 L1330.2 311.7 L1330.8 295.5 L1331.3 289.9 L1331.9 300.5 L1332.5 302.8 L1333.0 280.9 L1333.6 311.3 L1334.1 292.2 L1334.7 296.0 L1335.2 287.1 L1335.8 273.9 L1336.4 282.4 L1336.9 278.5 L1337.5 272.1 L1338.0 239.7 L1338.6 308.8 L1339.2 302.6 L1339.7 292.8 L1340.3 298.9 L1340.8 281.9 L1341.4 290.4 L1342.0 275.9 L1342.5 306.3 L1343.1 297.3 L1343.6 317.9 L1344.2 302.1 L1344.7 315.9 L1345.3 311.6 L1345.9 298.3 L1346.4 345.0 L1347.0 334.7 L1347.5 338.1 L1348.1 344.6 L1348.7 328.8 L1349.2 325.7 L1349.8 352.6 L1350.3 352.4 L1350.9 342.6 L1351.5 354.9 L1352.0 330.8 L1352.6 378.6 L1353.1 352.9 L1353.7 369.3 L1354.2 352.2 L1354.8 354.5 L1355.4 357.9 L1355.9 352.9 L1356.5 369.8 L1357.0 372.7 L1357.6 365.3 L1358.2 353.2 L1358.7 381.1 L1359.3 378.2 L1359.8 373.5 L1360.4 376.4 L1361.0 401.0 L1361.5 401.1 L1362.1 378.2 L1362.6 346.3 L1363.2 376.4 L1363.7 373.7 L1364.3 368.7 L1364.9 379.8 L1365.4 306.3 L1366.0 383.6 L1366.5 321.3 L1367.1 347.2 L1367.7 354.6 L1368.2 358.4 L1368.8 363.0 L1369.3 362.2 L1369.9 342.3 L1370.5 336.5 L1371.0 339.7 L1371.6 369.2 L1372.1 325.8 L1372.7 384.9 L1373.2 361.7 L1373.8 369.2 L1374.4 348.3 L1374.9 352.3 L1375.5 347.6 L1376.0 350.4 L1376.6 364.1 L1377.2 350.7 L1377.7 382.4 L1378.3 362.5 L1378.8 373.2 L1379.4 351.6 L1380.0 344.1 L1380.5 349.6 L1381.1 364.2 L1381.6 333.2 L1382.2 378.6 L1382.7 347.4 L1383.3 344.4 L1383.9 367.7 L1384.4 365.0 L1385.0 355.2 L1385.5 357.4 L1386.1 350.6 L1386.7 357.7 L1387.2 362.5 L1387.8 359.4 L1388.3 348.2 L1388.9 371.1 L1389.5 361.3 L1390.0 365.9 L1390.6 369.4 L1391.1 357.4 L1391.7 365.0 L1392.2 358.5 L1392.8 351.1 L1393.4 348.7 L1393.9 352.8 L1394.5 344.5 L1395.0 381.1 L1395.6 355.5 L1396.2 359.6 L1396.7 363.2 L1397.3 366.2 L1397.8 353.9 L1398.4 361.0 L1399.0 359.7 L1399.5 348.2 L1400.1 381.1 L1400.6 371.1 L1401.2 372.9 L1401.7 373.0 L1402.3 358.4 L1402.9 352.4 L1403.4 352.3 L1404.0 356.4 L1404.5 363.9 L1405.1 372.4 L1405.7 342.0 L1406.2 378.6 L1406.8 350.5 L1407.3 349.2 L1407.9 349.8 L1408.5 347.9 L1409.0 363.7 L1409.6 364.7 L1410.1 364.7 L1410.7 345.7 L1411.2 368.7 L1411.8 361.5 L1412.4 354.2 L1412.9 365.4 L1413.5 372.8 L1414.0 375.5 L1414.6 366.2 L1415.2 378.1 L1415.7 360.7 L1416.3 387.4 L1416.8 368.8 L1417.4 361.5 L1418.0 364.3 L1418.5 348.8 L1419.1 344.1 L1419.6 344.6 L1420.2 337.8 L1420.7 330.8 L1421.3 383.6 L1421.9 353.9 L1422.4 325.4 L1423.0 375.0 L1423.5 347.0 L1424.1 350.0 L1424.7 340.3 L1425.2 347.3 L1425.8 356.8 L1426.3 348.7 L1426.9 352.2 L1427.5 345.8 L1428.0 372.5 L1428.6 362.0 L1429.1 358.7 L1429.7 352.8 L1430.2 337.9 L1430.8 340.4 L1431.4 318.4 L1431.9 348.8 L1432.5 342.1 L1433.0 340.6 L1433.6 330.9 L1434.2 309.5 L1434.7 282.2 L1435.3 341.3 L1435.8 335.3 L1436.4 329.3 L1437.0 320.2 L1437.5 309.1 L1438.1 318.6 L1438.6 305.9 L1439.2 346.3 L1439.7 341.1 L1440.3 324.6 L1440.9 332.4 L1441.4 327.6 L1442.0 321.8 L1442.5 324.2 L1443.1 324.2 L1443.7 350.6 L1444.2 359.6 L1444.8 319.7 L1445.3 366.3 L1445.9 335.5 L1446.5 335.7 L1447.0 343.8 L1447.6 346.3 L1448.1 347.6 L1448.7 334.1 L1449.2 349.8 L1449.8 338.4 L1450.4 342.7 L1450.9 324.6 L1451.5 376.3 L1452.0 354.3 L1452.6 347.0 L1453.2 348.2 L1453.7 362.1 L1454.3 349.5 L1454.8 330.3 L1455.4 311.4 L1456.0 363.8 L1456.5 345.3 L1457.1 356.6 L1457.6 364.2 L1458.2 351.6 L1458.7 341.2 L1459.3 355.2 L1459.9 344.1 L1460.4 343.9 L1461.0 343.3 L1461.5 375.0 L1462.1 352.0 L1462.7 356.7 L1463.2 358.6 L1463.8 347.9 L1464.3 361.6 L1464.9 344.5 L1465.5 355.0 L1466.0 335.9 L1466.6 371.3 L1467.1 359.3 L1467.7 345.3 L1468.2 344.8 L1468.8 347.4 L1469.4 354.9 L1469.9 357.9 L1470.5 362.1 L1471.0 345.8 L1471.6 368.8 L1472.2 354.0 L1472.7 353.2 L1473.3 353.2 L1473.8 363.4 L1474.4 374.3 L1475.0 368.3 L1475.5 347.3 L1476.1 338.4 L1476.6 385.0 L1477.2 366.0 L1477.7 367.1 L1478.3 369.0 L1478.9 378.7 L1479.4 373.2 L1480.0 369.8 L1480.5 367.7 L1481.1 360.0 L1481.7 375.5 L1482.2 358.3 L1482.8 387.5 L1483.3 383.2 L1483.9 382.5 L1484.5 381.4 L1485.0 365.2 L1485.6 373.7 L1486.1 378.7 L1486.7 368.3 L1487.2 370.2 L1487.8 361.8 L1488.4 363.2 L1488.9 370.2 L1489.5 371.9 L1490.0 355.8 L1490.6 378.8 L1491.2 376.5 L1491.7 366.3 L1492.3 369.6 L1492.8 371.2 L1493.4 365.6 L1494.0 362.4 L1494.5 360.8 L1495.1 380.0 L1495.6 371.2 L1496.2 366.6 L1496.7 367.9 L1497.3 368.8 L1497.9 365.5 L1498.4 323.4 L1499.0 377.3 L1499.5 373.5 L1500.1 364.5 L1500.7 366.6 L1501.2 376.8 L1501.8 371.1 L1502.3 360.8 L1502.9 381.2 L1503.5 366.3 L1504.0 375.2 L1504.6 366.7 L1505.1 368.5 L1505.7 378.3 L1506.2 363.4 L1506.8 382.9 L1507.4 372.4 L1507.9 366.5 L1508.5 350.8 L1509.0 396.2 L1509.6 385.2 L1510.2 377.6 L1510.7 368.1 L1511.3 371.6 L1511.8 369.2 L1512.4 359.3 L1513.0 370.4 L1513.5 344.6 L1514.1 378.8 L1514.6 367.6 L1515.2 363.7 L1515.7 370.3 L1516.3 381.9 L1516.9 361.6 L1517.4 369.7 L1518.0 362.0 L1518.5 366.0 L1519.1 368.1 L1519.7 355.8 L1520.2 393.7 L1520.8 369.6 L1521.3 373.1 L1521.9 368.8 L1522.5 380.9 L1523.0 386.7 L1523.6 391.2 L1524.1 390.5 L1524.7 378.3 L1525.2 393.7 L1525.8 388.5 L1526.4 384.6 L1526.9 376.4 L1527.5 376.7 L1528.0 392.2 L1528.6 369.3 L1529.2 379.7 L1529.7 353.3 L1530.3 401.2 L1530.8 378.3 L1531.4 373.6 L1532.0 369.3 L1532.5 367.4 L1533.1 377.1 L1533.6 374.3 L1534.2 363.7 L1534.7 378.0 L1535.3 388.9 L1535.9 354.6 L1536.4 393.7 L1537.0 361.9 L1537.5 360.4 L1538.1 361.5 L1538.7 376.6 L1539.2 374.3 L1539.8 386.7 L1540.3 377.8 L1540.9 360.8 L1541.5 393.7 L1542.0 380.9 L1542.6 380.8 L1543.1 384.1 L1543.7 369.2 L1544.2 386.7 L1544.8 322.1 L1545.4 381.3 L1545.9 373.8 L1546.5 378.2 L1547.0 381.9 L1547.6 392.2 L1548.2 365.8 L1548.7 396.2 L1549.3 375.9 L1549.8 384.7 L1550.4 377.9 L1551.0 375.0 L1551.5 391.7 L1552.1 394.3 L1552.6 386.3 L1553.2 382.2 L1553.7 383.4 L1554.3 389.7 L1554.9 380.8 L1555.4 403.7 L1556.0 393.6 L1556.5 396.8 L1557.1 401.3 L1557.7 406.4 L1558.2 390.7 L1558.8 417.4 L1559.3 399.3 L1559.9 395.8 L1560.5 394.1 L1561.0 396.9 L1561.6 389.6 L1562.1 401.3 L1562.7 404.9 L1563.2 382.0 L1563.8 406.2 L1564.4 406.7 L1564.9 410.3 L1565.5 407.4 L1566.0 414.0 L1566.6 408.9 L1567.2 403.7 L1567.7 414.3 L1568.3 419.8 L1568.8 427.3 L1569.4 405.7 L1570.0 433.6 L1570.5 421.0 L1571.1 418.5 L1571.6 405.8 L1572.2 391.9 L1572.7 374.7 L1573.3 360.8 L1573.9 411.2 L1574.4 363.7 L1575.0 379.5 L1575.5 383.0 L1576.1 389.9 L1576.7 392.4 L1577.2 390.0 L1577.8 387.7 L1578.3 368.2 L1578.9 374.0 L1579.5 350.8 L1580.0 383.7 L1580.6 373.2 L1581.1 362.4 L1581.7 367.5 L1582.2 368.9 L1582.8 362.7 L1583.4 373.8 L1583.9 369.6 L1584.5 373.7 L1585.0 375.2 L1585.6 350.8 L1586.2 238.2 L1586.7 367.3 L1587.3 363.8 L1587.8 372.0 L1588.4 361.5 L1589.0 359.6 L1589.5 368.9 L1590.1 361.1 L1590.6 293.7 L1591.2 371.3 L1591.7 371.0 L1592.3 365.7 L1592.9 372.4 L1593.4 376.0 L1594.0 379.7 L1594.5 373.5 L1595.1 374.2 L1595.7 373.3 L1596.2 387.5 L1596.8 383.0 L1597.3 387.1 L1597.9 386.2 L1598.5 390.1 L1599.0 383.6 L1599.6 382.8 L1600.1 390.5 L1600.7 389.5 L1601.2 392.6 L1601.8 385.7 L1602.4 398.7 L1602.9 397.7 L1603.5 391.1 L1604.0 392.6 L1604.6 396.1 L1605.2 398.1 L1605.7 395.4 L1606.3 390.4 L1606.8 385.7 L1607.4 403.7 L1608.0 400.1 L1608.5 398.8 L1609.1 390.5 L1609.6 395.3 L1610.2 398.9 L1610.7 396.4 L1611.3 393.4 L1611.9 388.2 L1612.4 409.9 L1613.0 389.1 L1613.5 393.5 L1614.1 399.2 L1614.7 390.7 L1615.2 330.9 L1615.8 380.0 L1616.3 377.5 L1616.9 380.5 L1617.4 387.8 L1618.0 385.7 L1618.6 378.9 L1619.1 382.9 L1619.7 360.8 L1620.2 386.2 L1620.8 364.1 L1621.4 375.1 L1621.9 370.9 L1622.5 365.5 L1623.0 366.2 L1623.6 369.5 L1624.2 370.0 L1624.7 333.4 L1625.3 375.8 L1625.8 378.7 L1626.4 376.9 L1626.9 368.3 L1627.5 377.2 L1628.1 370.3 L1628.6 373.8 L1629.2 363.3 L1629.7 393.7 L1630.3 395.0 L1630.9 393.5 L1631.4 399.5 L1632.0 391.8 L1632.5 378.5 L1633.1 401.9 L1633.7 398.0 L1634.2 374.5 L1634.8 421.1 L1635.3 403.6 L1635.9 409.4 L1636.4 390.5 L1637.0 386.3 L1637.6 389.4 L1638.1 400.2 L1638.7 402.6 L1639.2 400.2 L1639.8 385.7 L1640.4 384.4 L1640.9 380.8 L1641.5 418.7 L1642.0 380.7 L1642.6 378.1 L1643.2 386.2 L1643.7 374.9 L1644.3 367.9 L1644.8 376.9 L1645.4 357.1 L1645.9 403.7 L1646.5 393.6 L1647.1 392.6 L1647.6 394.1 L1648.2 391.2 L1648.7 382.5 L1649.3 404.8 L1649.9 412.8 L1650.4 380.8 L1651.0 428.6 L1651.5 425.3 L1652.1 424.7 L1652.7 410.7 L1653.2 396.3 L1653.8 409.6 L1654.3 401.2 L1654.9 407.7 L1655.4 387.0 L1656.0 436.1 L1656.6 425.0 L1657.1 427.4 L1657.7 427.7 L1658.2 401.5 L1658.8 411.5 L1659.4 389.3 L1659.9 400.6 L1660.5 401.4 L1661.0 382.3 L1661.6 375.8 L1662.2 169.3 L1662.7 389.0 L1663.3 410.3 L1663.8 390.4 L1664.4 375.0 L1664.9 398.9 L1665.5 365.8 L1666.1 426.1 L1666.6 401.4 L1667.2 415.8 L1667.7 394.8 L1668.3 394.2 L1668.9 414.4 L1669.4 411.2 L1670.0 414.1 L1670.5 400.7 L1671.1 448.6 L1671.7 437.3 L1672.2 441.7 L1672.8 435.2 L1673.3 419.4 L1673.9 422.4 L1674.4 444.6 L1675.0 472.3 L1675.6 453.6 L1676.1 423.1 L1676.7 417.6 L1677.2 399.7 L1677.8 392.3 L1678.4 401.7 L1678.9 363.8 L1679.5 418.7 L1680.0 377.0 L1680.6 386.1 L1681.2 386.5 L1681.7 382.6 L1682.3 397.4 L1682.8 408.9 L1683.4 408.5 L1683.9 395.4 L1684.5 379.5 L1685.1 411.2 L1685.6 408.6 L1686.2 404.7 L1686.7 420.2 L1687.3 400.9 L1687.9 385.7 L1688.4 434.9 L1689.0 392.8 L1689.5 387.6 L1690.1 404.4 L1690.7 403.8 L1691.2 413.0 L1691.8 404.6 L1692.3 378.3 L1692.9 413.7 L1693.4 385.9 L1694.0 391.8 L1694.6 401.0 L1695.1 386.4 L1695.7 405.0 L1696.2 410.0 L1696.8 397.4 L1697.4 404.3 L1697.9 379.2 L1698.5 369.6 L1699.0 421.2 L1699.6 376.5 L1700.2 383.0 L1700.7 392.4 L1701.3 406.1 L1701.8 401.4 L1702.4 391.5 L1702.9 385.5 L1703.5 401.9 L1704.1 402.7 L1704.6 392.2 L1705.2 383.3 L1705.7 416.2 L1706.3 402.8 L1706.9 411.0 L1707.4 413.1 L1708.0 395.0 L1708.5 399.8 L1709.1 393.3 L1709.7 385.8 L1710.2 424.9 L1710.8 405.1 L1711.3 390.9 L1711.9 397.1 L1712.4 402.5 L1713.0 396.8 L1713.6 403.9 L1714.1 403.0 L1714.7 365.8 L1715.2 411.2 L1715.8 394.8 L1716.4 387.7 L1716.9 388.8 L1717.5 385.5 L1718.0 382.7 L1718.6 386.0 L1719.2 385.3 L1719.7 378.3 L1720.3 406.2 L1720.8 394.7 L1721.4 391.0 L1721.9 395.7 L1722.5 394.8 L1723.1 376.3 L1723.6 380.5 L1724.2 363.8 L1724.7 408.7 L1725.3 380.9 L1725.9 396.0 L1726.4 404.6 L1727.0 399.9 L1727.5 397.4 L1728.1 387.4 L1728.7 383.3 L1729.2 423.7 L1729.8 397.2 L1730.3 401.8 L1730.9 420.5 L1731.4 427.3 L1732.0 393.3 L1732.6 368.3 L1733.1 436.1 L1733.7 396.5 L1734.2 399.5 L1734.8 428.8 L1735.4 428.2 L1735.9 395.7 L1736.5 447.4 L1737.0 410.5 L1737.6 432.7 L1738.2 423.2 L1738.7 409.1 L1739.3 409.3 L1739.8 395.7 L1740.4 438.6 L1740.9 412.5 L1741.5 395.3 L1742.1 407.0 L1742.6 392.5 L1743.2 377.4 L1743.7 374.4 L1744.3 364.1 L1744.9 413.7 L1745.4 386.2 L1746.0 398.8 L1746.5 393.0 L1747.1 388.7 L1747.7 386.2 L1748.2 390.9 L1748.8 406.2 L1749.3 400.0 L1749.9 390.8 L1750.4 411.2 L1751.0 399.6 L1751.6 401.2 L1752.1 409.3 L1752.7 404.8 L1753.2 410.0 L1753.8 411.9 L1754.4 396.7 L1754.9 383.3 L1755.5 416.2 L1756.0 389.4 L1756.6 404.5 L1757.2 395.3 L1757.7 391.3 L1758.3 374.0 L1758.8 364.6 L1759.4 418.7 L1759.9 405.6 L1760.5 383.8 L1761.1 395.3 L1761.6 406.7 L1762.2 407.5 L1762.7 404.8 L1763.3 391.5 L1763.9 380.6 L1764.4 356.3 L1765.0 418.7 L1765.5 372.7 L1766.1 372.5 L1766.7 388.8 L1767.2 383.2 L1767.8 391.8 L1768.3 406.4 L1768.9 399.5 L1769.4 410.1 L1770.0 378.3 L1770.6 413.7 L1771.1 384.7 L1771.7 394.3 L1772.2 388.1 L1772.8 401.1 L1773.4 409.8 L1773.9 390.6 L1774.5 382.5 L1775.0 378.3 L1775.6 421.2 L1776.2 390.3 L1776.7 412.6 L1777.3 410.0 L1777.8 467.3 L1778.4 398.2 L1778.9 428.7 L1779.5 403.7 L1780.1 406.0 L1780.6 416.7 L1781.2 409.0 L1781.7 404.5 L1782.3 379.5 L1782.9 421.2 L1783.4 404.0 L1784.0 391.7 L1784.5 397.2 L1785.1 410.9 L1785.7 408.8 L1786.2 365.3 L1786.8 413.7 L1787.3 402.2 L1787.9 403.9 L1788.4 390.1 L1789.0 384.2 L1789.6 386.8 L1790.1 403.3 L1790.7 408.0 L1791.2 390.8 L1791.8 413.7 L1792.4 404.3 L1792.9 397.6 L1793.5 391.1 L1794.0 397.7 L1794.6 384.4 L1795.2 378.3 L1795.7 411.2 L1796.3 405.1 L1796.8 408.8 L1797.4 414.2 L1797.9 404.7 L1798.5 413.7 L1799.1 403.5 L1799.6 388.3 L1800.2 427.4 L1800.7 401.6 L1801.3 406.4 L1801.9 414.5 L1802.4 411.8 L1803.0 419.0 L1803.5 401.0 L1804.1 409.0 L1804.7 389.5 L1805.2 421.2 L1805.8 406.0 L1806.3 396.0 L1806.9 415.5 L1807.4 410.1 L1808.0 413.7 L1808.6 402.7 L1809.1 417.8 L1809.7 398.2 L1810.2 429.9 L1810.8 425.6 L1811.4 407.4 L1811.9 423.0 L1812.5 413.6 L1813.0 431.3 L1813.6 418.7 L1814.2 402.3 L1814.7 393.2 L1815.3 439.9 L1815.8 413.0 L1816.4 432.0 L1816.9 427.2 L1817.5 247.4 L1818.1 402.0 L1818.6 426.0 L1819.2 397.8 L1819.7 403.2 L1820.3 392.9 L1820.9 400.0 L1821.4 395.2 L1822.0 375.8 L1822.5 438.6 L1823.1 394.1 L1823.7 410.9 L1824.2 400.2 L1824.8 414.0 L1825.3 415.0 L1825.9 405.8 L1826.4 418.4 L1827.0 395.7 L1827.6 426.2 L1828.1 402.9 L1828.7 413.1 L1829.2 420.5 L1829.8 422.2 L1830.4 422.3 L1830.9 414.4 L1831.5 408.6 L1832.0 403.2 L1832.6 424.9 L1833.2 410.1 L1833.7 416.9 L1834.3 417.9 L1834.8 420.0 L1835.4 424.1 L1835.9 400.7 L1836.5 431.1 L1837.1 421.5 L1837.6 410.3 L1838.2 413.4 L1838.7 412.7 L1839.3 394.2 L1839.9 383.3 L1840.4 411.2 L1841.0 397.5 L1841.5 402.2 L1842.1 396.6 L1842.7 399.8 L1843.2 387.7 L1843.8 388.3 L1844.3 398.1 L1844.9 394.0 L1845.4 385.6 L1846.0 382.0 L1846.6 402.5 L1847.1 389.9 L1847.7 398.5 L1848.2 400.1 L1848.8 391.2 L1849.4 397.1 L1849.9 388.0 L1850.5 387.4 L1851.0 371.3 L1851.6 403.7 L1852.2 391.9 L1852.7 403.0 L1853.3 403.9 L1853.8 391.3 L1854.4 378.3 L1854.9 392.3 L1855.5 393.1 L1856.1 384.0 L1856.6 375.6 L1857.2 370.3 L1857.7 413.7 L1858.3 381.8 L1858.9 374.9 L1859.4 382.5 L1860.0 369.5 L1860.5 373.0 L1861.1 387.7 L1861.7 392.9 L1862.2 354.6 L1862.8 398.7 L1863.3 368.3 L1863.9 379.2 L1864.4 376.5 L1865.0 373.0 L1865.6 368.8 L1866.1 380.5 L1866.7 372.7 L1867.2 363.3 L1867.8 383.8 L1868.4 366.3 L1868.9 362.2 L1869.5 357.1 L1870.0 356.3 L1870.6 361.2 L1871.2 373.0 L1871.7 338.4 L1872.3 388.8 L1872.8 355.5 L1873.4 361.7 L1873.9 371.6 L1874.5 372.2 L1875.1 358.4 L1875.6 374.3 L1876.2 362.8 L1876.7 360.8 L1877.3 388.8 L1877.9 365.6 L1878.4 365.8 L1879.0 368.8 L1879.5 379.2 L1880.1 389.0 L1880.7 374.9 L1881.2 375.2 L1881.8 365.8 L1882.3 405.7 L1882.9 375.5 L1883.4 369.5 L1884.0 391.1 L1884.6 370.8 L1885.1 369.4 L1885.7 386.7 L1886.2 159.0 L1886.8 371.9 L1887.4 369.4 L1887.9 361.5 L1888.5 359.1 L1889.0 357.6 L1889.6 353.3 L1890.2 387.5 L1890.7 358.4 L1891.3 359.0 L1891.8 364.0 L1892.4 372.3 L1892.9 373.1 L1893.5 375.2 L1894.1 370.7 L1894.6 359.6 L1895.2 388.8 L1895.7 377.4 L1896.3 371.5 L1896.9 386.5 L1897.4 391.5 L1898.0 392.7 L1898.5 393.8 L1899.1 380.1 L1899.7 370.8 L1900.2 398.7 L1900.8 387.1 L1901.3 398.5 L1901.9 376.7 L1902.4 365.8 L1903.0 408.7 L1903.6 383.8 L1904.1 377.2 L1904.7 371.8 L1905.2 369.9 L1905.8 368.7 L1906.4 365.6 L1906.9 362.1 L1907.5 386.3 L1908.0 367.8 L1908.6 372.2 L1909.2 371.2 L1909.7 366.3 L1910.3 372.9 L1910.8 364.2 L1911.4 353.1 L1911.9 348.4 L1912.5 373.8 L1913.1 360.2 L1913.6 359.9 L1914.2 359.5 L1914.7 362.9 L1915.3 341.7 L1915.9 329.7 L1916.4 363.8 L1917.0 337.7 L1917.5 332.6 L1918.1 332.5 L1918.7 345.6 L1919.2 332.6 L1919.8 335.3 L1920.3 336.0 L1920.9 331.7 L1921.4 306.5 L1922.0 351.3 L1922.6 333.2 L1923.1 334.9 L1923.7 332.5 L1924.2 328.3 L1924.8 332.4 L1925.4 342.3 L1925.9 334.7 L1926.5 335.8 L1927.0 325.9 L1927.6 346.4 L1928.2 337.5 L1928.7 342.2 L1929.3 342.6 L1929.8 348.1 L1930.4 343.6 L1930.9 345.8 L1931.5 348.4 L1932.1 343.4 L1932.6 356.3 L1933.2 349.5 L1933.7 338.0 L1934.3 351.6 L1934.9 344.3 L1935.4 324.7 L1936.0 368.8 L1936.5 348.0 L1937.1 351.8 L1937.7 347.2 L1938.2 355.8 L1938.8 352.0 L1939.3 345.8 L1939.9 344.9 L1940.4 344.6 L1941.0 370.0 L1941.6 365.1 L1942.1 361.2 L1942.7 350.5 L1943.2 352.2 L1943.8 349.1 L1944.4 345.3 L1944.9 349.7 L1945.5 340.9 L1946.0 377.5 L1946.6 357.8 L1947.2 358.9 L1947.7 348.4 L1948.3 349.1 L1948.8 353.1 L1949.4 365.8 L1949.9 355.9 L1950.5 349.6 L1951.1 373.8 L1951.6 371.9 L1952.2 363.5 L1952.7 362.6 L1953.3 373.8 L1953.9 363.7 L1954.4 370.6 L1955.0 361.3 L1955.5 371.3 L1956.1 350.9 L1956.7 400.0 L1957.2 379.5 L1957.8 366.3 L1958.3 380.5 L1958.9 368.4 L1959.4 365.5 L1960.0 371.6 L1960.6 373.8 L1961.1 377.0 L1961.7 363.3 L1962.2 378.8 L1962.8 379.0 L1963.4 373.4 L1963.9 380.6 L1964.5 377.0 L1965.0 360.7 L1965.6 387.4 L1966.2 366.2 L1966.7 359.9 L1967.3 373.5 L1967.8 366.9 L1968.4 377.0 L1968.9 378.4 L1969.5 347.0 L1970.1 381.2 L1970.6 347.1 L1971.2 370.0 L1971.7 372.2 L1972.3 376.6 L1972.9 369.3 L1973.4 371.2 L1974.0 370.5 L1974.5 359.9 L1975.1 342.2 L1975.7 327.1 L1976.2 382.4 L1976.8 358.2 L1977.3 361.2 L1977.9 339.7 L1978.4 341.5 L1979.0 362.6 L1979.6 369.4 L1980.1 346.5 L1980.7 355.2 L1981.2 370.2 L1981.8 355.7 L1982.4 344.5 L1982.9 398.6 L1983.5 362.2 L1984.0 366.8 L1984.6 374.0 L1985.2 387.1 L1985.7 388.1 L1986.3 369.8 L1986.8 369.7 L1987.4 361.1 L1987.9 361.1 L1988.5 359.5 L1989.1 386.2 L1989.6 371.9 L1990.2 381.3 L1990.7 384.0 L1991.3 375.8 L1991.9 368.6 L1992.4 371.0 L1993.0 370.1 L1993.5 368.2 L1994.1 396.1 L1994.7 378.4 L1995.2 369.6 L1995.8 386.0 L1996.3 375.2 L1996.9 371.5 L1997.4 373.9 L1998.0 382.5 L1998.6 362.0 L1999.1 396.1 L1999.7 395.4 L2000.2 377.5 L2000.8 373.4 L2001.4 376.5 L2001.9 378.6 L2002.5 375.7 L2003.0 409.8 L2003.6 404.1 L2004.2 397.8 L2004.7 368.4 L2005.3 340.0 L2005.8 411.1 L2006.4 350.7 L2006.9 354.1 L2007.5 355.3 L2008.1 368.5 L2008.6 396.8 L2009.2 376.8 L2009.7 402.1 L2010.3 383.7 L2010.9 365.7 L2011.4 411.1 L2012.0 383.1 L2012.5 387.5 L2013.1 398.9 L2013.7 377.6 L2014.2 375.6 L2014.8 368.9 L2015.3 369.0 L2015.9 364.5 L2016.4 403.6 L2017.0 374.7 L2017.6 393.0 L2018.1 384.4 L2018.7 391.9 L2019.2 376.5 L2019.8 390.6 L2020.4 375.0 L2020.9 388.8 L2021.5 373.0 L2022.0 380.6 L2022.6 365.7 L2023.2 391.1 L2023.7 367.7 L2024.3 366.3 L2024.8 364.6 L2025.4 381.2 L2025.9 371.7 L2026.5 382.1 L2027.1 357.0 L2027.6 391.1 L2028.2 382.6 L2028.7 361.0 L2029.3 373.5 L2029.9 378.0 L2030.4 359.8 L2031.0 353.0 L2031.5 351.0 L2032.1 340.8 L2032.6 389.9 L2033.2 384.8 L2033.8 379.3 L2034.3 358.3 L2034.9 359.4 L2035.4 377.8 L2036.0 369.3 L2036.6 358.6 L2037.1 349.5 L2037.7 391.1 L2038.2 369.2 L2038.8 373.1 L2039.4 370.6 L2039.9 351.3 L2040.5 346.5 L2041.0 361.2 L2041.6 325.8 L2042.1 391.1 L2042.7 357.4 L2043.3 357.5 L2043.8 346.1 L2044.4 372.6 L2044.9 380.7 L2045.5 392.4 L2046.1 389.4 L2046.6 416.0 L2047.2 398.6 L2047.7 362.8 L2048.3 382.1 L2048.9 371.8 L2049.4 372.6 L2050.0 382.0 L2050.5 386.4 L2051.1 385.1 L2051.6 382.1 L2052.2 335.8 L2052.8 387.4 L2053.3 343.1 L2053.9 338.8 L2054.4 357.6 L2055.0 352.4 L2055.6 359.5 L2056.1 357.8 L2056.7 350.3 L2057.2 346.7 L2057.8 346.0 L2058.4 330.8 L2058.9 351.2 L2059.5 344.6 L2060.0 339.3 L2060.6 332.6 L2061.1 344.6 L2061.7 348.6 L2062.3 342.6 L2062.8 337.7 L2063.4 328.3 L2063.9 351.2 L2064.5 342.0 L2065.1 347.0 L2065.6 344.1 L2066.2 348.9 L2066.7 348.9 L2067.3 342.1 L2067.9 328.5 L2068.4 346.0 L2069.0 337.3 L2069.5 330.3 L2070.1 329.8 L2070.6 329.7 L2071.2 312.1 L2071.8 353.7 L2072.3 323.2 L2072.9 327.4 L2073.4 338.5 L2074.0 334.7 L2074.6 333.9 L2075.1 324.4 L2075.7 327.3 L2076.2 324.0 L2076.8 324.8 L2077.4 322.1 L2077.9 353.7 L2078.5 349.7 L2079.0 352.9 L2079.6 349.3 L2080.1 353.1 L2080.7 343.3 L2081.3 358.7 L2081.8 348.8 L2082.4 347.7 L2082.9 370.4 L2083.5 358.4 L2084.1 345.8 L2084.6 396.1 L2085.2 364.1 L2085.7 360.3 L2086.3 362.7 L2086.9 363.6 L2087.4 359.4 L2088.0 372.4 L2088.5 356.3 L2089.1 378.8 L2089.6 343.3 L2090.2 379.9 L2090.8 338.8 L2091.3 356.0 L2091.9 333.2 L2092.4 353.9 L2093.0 314.4 L2093.6 307.1 L2094.1 348.8 L2094.7 339.5 L2095.2 316.5 L2095.8 355.5 L2096.4 306.0 L2096.9 303.4 L2097.5 368.7 L2098.0 353.0 L2098.6 326.8 L2099.1 368.2 L2099.7 318.7 L2100.3 352.0 L2100.8 317.4 L2101.4 357.6 L2101.9 320.8 L2102.5 377.4 L2103.1 329.3 L2103.6 361.5 L2104.2 338.2 L2104.7 368.7 L2105.3 322.5 L2105.9 359.5 L2106.4 328.9 L2107.0 315.8 L2107.5 373.7 L2108.1 368.6 L2108.6 315.8 L2109.2 371.5 L2109.8 329.1 L2110.3 363.5 L2110.9 326.9 L2111.4 351.2 L2112.0 315.7 L2112.6 366.4 L2113.1 314.4 L2113.7 360.2 L2114.2 307.1 L2114.8 373.7 L2115.4 330.2 L2115.9 369.4 L2116.5 321.1 L2117.0 375.7 L2117.6 317.2 L2118.1 377.5 L2118.7 338.6 L2119.3 371.2 L2119.8 320.8 L2120.4 381.2 L2120.9 339.4 L2121.5 388.5 L2122.1 353.6 L2122.6 388.2 L2123.2 340.0 L2123.7 405.0 L2124.3 343.8 L2124.9 335.8 L2125.4 411.1 L2126.0 405.6 L2126.5 350.8 L2127.1 395.7 L2127.6 350.2 L2128.2 399.2 L2128.8 335.3 L2129.3 330.8 L2129.9 408.6 L2130.4 401.9 L2131.0 353.9 L2131.6 394.9 L2132.1 335.6 L2132.7 378.6 L2133.2 336.0 L2133.8 395.8 L2134.4 333.3 L2134.9 397.4 L2135.5 329.4 L2136.0 390.4 L2136.6 327.8 L2137.1 303.5 L2137.7 310.1 L2138.3 303.4 L2138.8 397.4 L2139.4 393.8 L2139.9 316.6 L2140.5 392.2 L2141.1 326.5 L2141.6 390.6 L2142.2 317.1 L2142.7 399.6 L2143.3 329.4 L2143.9 383.3 L2144.4 323.3 L2145.0 402.4 L2145.5 342.9 L2146.1 386.3 L2146.6 328.3 L2147.2 374.4 L2147.8 333.6 L2148.3 319.6 L2148.9 381.2 L2149.4 374.9 L2150.0 325.1 L2150.6 380.4 L2151.1 325.5 L2151.7 376.6 L2152.2 326.4 L2152.8 379.9 L2153.4 292.9 L2153.9 382.4 L2154.5 314.2 L2155.0 341.4 L2155.6 302.1 L2156.1 359.0 L2156.7 294.3 L2157.3 345.2 L2157.8 294.6 L2158.4 293.4 L2158.9 345.0 L2159.5 338.5 L2160.1 336.5 L2160.6 314.2 L2161.2 304.0 L2161.7 333.5 L2162.3 323.4 L2162.9 314.8 L2163.4 300.9 L2164.0 348.8 L2164.5 304.9 L2165.1 294.4 L2165.6 317.8 L2166.2 302.2 L2166.8 287.2 L2167.3 273.9 L2167.9 326.3 L2168.4 280.6 L2169.0 301.2 L2169.6 286.4 L2170.1 308.0 L2170.7 299.5 L2171.2 308.7 L2171.8 327.0 L2172.4 330.7 L2172.9 331.2 L2173.5 283.4 L2174.0 337.5 L2174.6 326.8 L2175.1 325.9 L2175.7 313.6 L2176.3 326.0 L2176.8 320.7 L2177.4 321.3 L2177.9 298.4 L2178.5 345.0 L2179.1 334.6 L2179.6 336.5 L2180.2 316.7 L2180.7 215.3 L2181.3 345.0 L2181.9 317.3 L2182.4 315.2 L2183.0 313.6 L2183.5 299.8 L2184.1 306.1 L2184.6 291.2 L2185.2 310.9 L2185.8 310.6 L2186.3 325.1 L2186.9 346.3 L2187.4 331.8 L2188.0 320.7 L2188.6 275.5 L2189.1 280.7 L2189.7 279.9 L2190.2 279.5 L2190.8 278.2 L2191.4 303.8 L2191.9 271.0 L2192.5 327.6 L2193.0 297.9 L2193.6 274.3 L2194.1 292.2 L2194.7 249.8 L2195.3 241.8 L2195.8 302.6 L2196.4 275.2 L2196.9 229.0 L2197.5 268.8 L2198.1 218.5 L2198.6 199.2 L2199.2 232.3 L2199.7 271.1 L2200.3 216.9 L2200.9 293.9 L2201.4 211.4 L2202.0 194.7 L2202.5 196.3 L2203.1 254.4 L2203.6 195.9 L2204.2 183.4 L2204.8 197.8 L2205.3 251.3 L2205.9 271.4 L2206.4 256.9 L2207.0 203.6 L2207.6 258.5 L2208.1 207.7 L2208.7 263.4 L2209.2 216.9 L2209.8 257.6 L2210.4 205.9 L2210.9 266.0 L2211.5 214.2 L2212.0 271.4 L2212.6 224.8 L2213.1 226.1 L2213.7 228.7 L2214.3 261.1 L2214.8 229.9 L2215.4 269.2 L2215.9 244.7 L2216.5 225.0 L2217.1 281.4 L2217.6 277.7 L2218.2 231.7 L2218.7 263.6 L2219.3 234.9 L2219.9 223.8 L2220.4 238.9 L2221.0 265.6 L2221.5 234.8 L2222.1 225.0 L2222.6 318.8 L2223.2 288.9 L2223.8 238.3 L2224.3 279.1 L2224.9 230.7 L2225.4 213.7 L2226.0 221.6 L2226.6 287.0 L2227.1 231.8 L2227.7 290.7 L2228.2 297.6 L2228.8 194.2 L2229.4 229.0 L2229.9 297.2 L2230.5 242.1 L2231.0 298.3 L2231.6 223.2 L2232.1 228.3 L2232.7 230.9 L2233.3 295.6 L2233.8 246.0 L2234.4 301.4 L2234.9 232.1 L2235.5 226.1" fill="none" stroke="#7dfbfd" stroke-width="4" stroke-linejoin="bevel" stroke-linecap="round"/>
<path d="M159.5 659.0 L160.1 659.0 L160.6 659.0 L161.2 659.0 L161.7 659.0 L162.3 659.0 L162.9 659.0 L163.4 659.0 L164.0 659.0 L164.5 659.0 L165.1 659.0 L165.6 659.0 L166.2 659.0 L166.8 659.0 L167.3 659.0 L167.9 659.0 L168.4 659.0 L169.0 659.0 L169.6 659.0 L170.1 659.0 L170.7 659.0 L171.2 659.0 L171.8 659.0 L172.4 659.0 L172.9 659.0 L173.5 659.0 L174.0 659.0 L174.6 659.0 L175.1 659.0 L175.7 659.0 L176.3 659.0 L176.8 659.0 L177.4 659.0 L177.9 659.0 L178.5 659.0 L179.1 659.0 L179.6 659.0 L180.2 659.0 L180.7 659.0 L181.3 659.0 L181.9 659.0 L182.4 659.0 L183.0 659.0 L183.5 659.0 L184.1 659.0 L184.6 659.0 L185.2 659.0 L185.8 659.0 L186.3 659.0 L186.9 659.0 L187.4 659.0 L188.0 659.0 L188.6 659.0 L189.1 659.0 L189.7 659.0 L190.2 659.0 L190.8 659.0 L191.4 659.0 L191.9 659.0 L192.5 659.0 L193.0 659.0 L193.6 659.0 L194.1 659.0 L194.7 659.0 L195.3 659.0 L195.8 659.0 L196.4 659.0 L196.9 659.0 L197.5 659.0 L198.1 659.0 L198.6 659.0 L199.2 659.0 L199.7 659.0 L200.3 659.0 L200.9 659.0 L201.4 659.0 L202.0 659.0 L202.5 659.0 L203.1 659.0 L203.6 659.0 L204.2 659.0 L204.8 659.0 L205.3 659.0 L205.9 659.0 L206.4 659.0 L207.0 659.0 L207.6 659.0 L208.1 659.0 L208.7 659.0 L209.2 659.0 L209.8 659.0 L210.4 659.0 L210.9 659.0 L211.5 659.0 L212.0 659.0 L212.6 659.0 L213.1 659.0 L213.7 659.0 L214.3 659.0 L214.8 659.0 L215.4 659.0 L215.9 659.0 L216.5 659.0 L217.1 659.0 L217.6 659.0 L218.2 659.0 L218.7 659.0 L219.3 659.0 L219.9 659.0 L220.4 659.0 L221.0 659.0 L221.5 659.0 L222.1 659.0 L222.6 659.0 L223.2 659.0 L223.8 659.0 L224.3 659.0 L224.9 659.0 L225.4 659.0 L226.0 659.0 L226.6 659.0 L227.1 659.0 L227.7 659.0 L228.2 659.0 L228.8 659.0 L229.4 659.0 L229.9 659.0 L230.5 659.0 L231.0 659.0 L231.6 659.0 L232.1 659.0 L232.7 659.0 L233.3 659.0 L233.8 659.0 L234.4 659.0 L234.9 659.0 L235.5 659.0 L236.1 659.0 L236.6 659.0 L237.2 659.0 L237.7 659.0 L238.3 659.0 L238.9 659.0 L239.4 659.0 L240.0 659.0 L240.5 659.0 L241.1 659.0 L241.6 659.0 L242.2 659.0 L242.8 659.0 L243.3 659.0 L243.9 659.0 L244.4 659.0 L245.0 659.0 L245.6 659.0 L246.1 659.0 L246.7 659.0 L247.2 659.0 L247.8 659.0 L248.4 659.0 L248.9 659.0 L249.5 659.0 L250.0 659.0 L250.6 659.0 L251.1 659.0 L251.7 659.0 L252.3 659.0 L252.8 659.0 L253.4 659.0 L253.9 659.0 L254.5 659.0 L255.1 659.0 L255.6 659.0 L256.2 659.0 L256.7 659.0 L257.3 659.0 L257.9 659.0 L258.4 659.0 L259.0 659.0 L259.5 659.0 L260.1 659.0 L260.6 659.0 L261.2 659.0 L261.8 659.0 L262.3 659.0 L262.9 659.0 L263.4 659.0 L264.0 659.0 L264.6 659.0 L265.1 659.0 L265.7 659.0 L266.2 659.0 L266.8 659.0 L267.4 659.0 L267.9 659.0 L268.5 659.0 L269.0 659.0 L269.6 659.0 L270.1 659.0 L270.7 659.0 L271.3 659.0 L271.8 659.0 L272.4 659.0 L272.9 659.0 L273.5 659.0 L274.1 659.0 L274.6 659.0 L275.2 659.0 L275.7 659.0 L276.3 659.0 L276.9 659.0 L277.4 659.0 L278.0 659.0 L278.5 659.0 L279.1 659.0 L279.6 659.0 L280.2 659.0 L280.8 659.0 L281.3 659.0 L281.9 659.0 L282.4 659.0 L283.0 659.0 L283.6 659.0 L284.1 659.0 L284.7 659.0 L285.2 659.0 L285.8 659.0 L286.4 659.0 L286.9 659.0 L287.5 659.0 L288.0 659.0 L288.6 659.0 L289.1 659.0 L289.7 659.0 L290.3 659.0 L290.8 659.0 L291.4 659.0 L291.9 659.0 L292.5 659.0 L293.1 659.0 L293.6 659.0 L294.2 659.0 L294.7 659.0 L295.3 659.0 L295.9 659.0 L296.4 659.0 L297.0 659.0 L297.5 659.0 L298.1 659.0 L298.6 659.0 L299.2 659.0 L299.8 659.0 L300.3 659.0 L300.9 659.0 L301.4 659.0 L302.0 659.0 L302.6 659.0 L303.1 659.0 L303.7 659.0 L304.2 659.0 L304.8 659.0 L305.4 659.0 L305.9 659.0 L306.5 659.0 L307.0 659.0 L307.6 659.0 L308.1 659.0 L308.7 659.0 L309.3 659.0 L309.8 659.0 L310.4 659.0 L310.9 659.0 L311.5 659.0 L312.1 659.0 L312.6 659.0 L313.2 659.0 L313.7 659.0 L314.3 659.0 L314.9 659.0 L315.4 659.0 L316.0 659.0 L316.5 659.0 L317.1 659.0 L317.6 659.0 L318.2 659.0 L318.8 659.0 L319.3 659.0 L319.9 659.0 L320.4 659.0 L321.0 659.0 L321.6 659.0 L322.1 659.0 L322.7 659.0 L323.2 659.0 L323.8 659.0 L324.4 659.0 L324.9 659.0 L325.5 659.0 L326.0 659.0 L326.6 659.0 L327.1 659.0 L327.7 659.0 L328.3 659.0 L328.8 659.0 L329.4 659.0 L329.9 659.0 L330.5 659.0 L331.1 659.0 L331.6 659.0 L332.2 659.0 L332.7 659.0 L333.3 659.0 L333.9 659.0 L334.4 659.0 L335.0 659.0 L335.5 659.0 L336.1 659.0 L336.6 659.0 L337.2 659.0 L337.8 659.0 L338.3 659.0 L338.9 659.0 L339.4 659.0 L340.0 659.0 L340.6 659.0 L341.1 659.0 L341.7 659.0 L342.2 659.0 L342.8 659.0 L343.4 659.0 L343.9 659.0 L344.5 659.0 L345.0 659.0 L345.6 659.0 L346.1 659.0 L346.7 659.0 L347.3 659.0 L347.8 659.0 L348.4 659.0 L348.9 659.0 L349.5 659.0 L350.1 659.0 L350.6 659.0 L351.2 659.0 L351.7 659.0 L352.3 659.0 L352.9 659.0 L353.4 659.0 L354.0 659.0 L354.5 659.0 L355.1 659.0 L355.6 659.0 L356.2 659.0 L356.8 659.0 L357.3 659.0 L357.9 659.0 L358.4 659.0 L359.0 659.0 L359.6 659.0 L360.1 659.0 L360.7 659.0 L361.2 659.0 L361.8 659.0 L362.4 659.0 L362.9 659.0 L363.5 659.0 L364.0 659.0 L364.6 659.0 L365.1 659.0 L365.7 659.0 L366.3 659.0 L366.8 659.0 L367.4 659.0 L367.9 659.0 L368.5 659.0 L369.1 659.0 L369.6 659.0 L370.2 659.0 L370.7 659.0 L371.3 659.0 L371.8 659.0 L372.4 659.0 L373.0 659.0 L373.5 659.0 L374.1 659.0 L374.6 659.0 L375.2 659.0 L375.8 659.0 L376.3 659.0 L376.9 659.0 L377.4 659.0 L378.0 659.0 L378.6 659.0 L379.1 659.0 L379.7 659.0 L380.2 659.0 L380.8 659.0 L381.3 659.0 L381.9 659.0 L382.5 659.0 L383.0 659.0 L383.6 659.0 L384.1 659.0 L384.7 659.0 L385.3 659.0 L385.8 659.0 L386.4 659.0 L386.9 659.0 L387.5 659.0 L388.1 659.0 L388.6 659.0 L389.2 659.0 L389.7 659.0 L390.3 659.0 L390.8 659.0 L391.4 659.0 L392.0 659.0 L392.5 659.0 L393.1 657.7 L393.6 658.9 L394.2 657.3 L394.8 658.9 L395.3 658.1 L395.9 659.0 L396.4 658.6 L397.0 659.0 L397.6 658.8 L398.1 658.9 L398.7 658.4 L399.2 658.9 L399.8 658.1 L400.3 659.0 L400.9 657.7 L401.5 658.9 L402.0 657.2 L402.6 658.5 L403.1 656.9 L403.7 659.0 L404.3 656.9 L404.8 658.3 L405.4 657.0 L405.9 659.0 L406.5 656.2 L407.1 654.5 L407.6 656.9 L408.2 659.0 L408.7 657.8 L409.3 658.8 L409.8 658.9 L410.4 659.0 L411.0 659.0 L411.5 659.0 L412.1 659.0 L412.6 659.0 L413.2 659.0 L413.8 659.0 L414.3 658.9 L414.9 659.0 L415.4 658.9 L416.0 659.0 L416.6 658.9 L417.1 659.0 L417.7 658.9 L418.2 659.0 L418.8 658.9 L419.3 659.0 L419.9 658.9 L420.5 659.0 L421.0 658.8 L421.6 658.9 L422.1 658.8 L422.7 659.0 L423.3 658.8 L423.8 659.0 L424.4 658.8 L424.9 659.0 L425.5 658.8 L426.1 659.0 L426.6 658.8 L427.2 659.0 L427.7 658.7 L428.3 659.0 L428.8 658.7 L429.4 658.9 L430.0 658.8 L430.5 659.0 L431.1 658.8 L431.6 658.9 L432.2 658.6 L432.8 659.0 L433.3 658.7 L433.9 658.9 L434.4 658.7 L435.0 658.9 L435.6 658.6 L436.1 658.9 L436.7 658.6 L437.2 658.9 L437.8 658.7 L438.3 659.0 L438.9 658.7 L439.5 659.0 L440.0 658.5 L440.6 658.8 L441.1 658.6 L441.7 659.0 L442.3 658.6 L442.8 659.0 L443.4 658.5 L443.9 658.9 L444.5 658.5 L445.1 659.0 L445.6 658.5 L446.2 658.9 L446.7 658.6 L447.3 659.0 L447.8 658.6 L448.4 658.9 L449.0 658.6 L449.5 659.0 L450.1 658.4 L450.6 658.8 L451.2 658.5 L451.8 659.0 L452.3 658.4 L452.9 658.8 L453.4 658.5 L454.0 658.9 L454.6 658.6 L455.1 658.8 L455.7 658.4 L456.2 659.0 L456.8 658.6 L457.3 659.0 L457.9 658.6 L458.5 659.0 L459.0 658.4 L459.6 659.0 L460.1 658.4 L460.7 658.8 L461.3 658.4 L461.8 658.9 L462.4 658.6 L462.9 658.9 L463.5 658.5 L464.1 659.0 L464.6 658.4 L465.2 659.0 L465.7 658.4 L466.3 658.7 L466.8 658.4 L467.4 658.8 L468.0 658.3 L468.5 658.9 L469.1 658.4 L469.6 659.0 L470.2 658.3 L470.8 658.8 L471.3 658.4 L471.9 658.9 L472.4 658.4 L473.0 658.8 L473.6 658.2 L474.1 659.0 L474.7 658.3 L475.2 658.8 L475.8 658.2 L476.3 658.8 L476.9 658.3 L477.5 658.8 L478.0 658.4 L478.6 658.9 L479.1 658.2 L479.7 659.0 L480.3 658.3 L480.8 658.7 L481.4 658.2 L481.9 658.8 L482.5 658.2 L483.1 658.8 L483.6 658.2 L484.2 658.8 L484.7 658.2 L485.3 658.8 L485.8 658.3 L486.4 658.9 L487.0 658.2 L487.5 659.0 L488.1 658.2 L488.6 659.0 L489.2 658.1 L489.8 658.8 L490.3 658.1 L490.9 659.0 L491.4 658.1 L492.0 658.9 L492.6 658.3 L493.1 658.6 L493.7 658.2 L494.2 658.8 L494.8 658.3 L495.3 658.9 L495.9 658.0 L496.5 658.9 L497.0 658.4 L497.6 659.0 L498.1 658.1 L498.7 658.9 L499.3 658.3 L499.8 659.0 L500.4 658.1 L500.9 658.7 L501.5 658.0 L502.1 658.8 L502.6 657.9 L503.2 658.6 L503.7 657.9 L504.3 658.9 L504.8 658.0 L505.4 658.8 L506.0 658.1 L506.5 658.9 L507.1 657.8 L507.6 658.6 L508.2 657.9 L508.8 658.7 L509.3 657.8 L509.9 658.8 L510.4 657.7 L511.0 658.9 L511.6 658.0 L512.1 658.6 L512.7 657.6 L513.2 658.8 L513.8 657.8 L514.3 658.9 L514.9 657.7 L515.5 658.5 L516.0 657.8 L516.6 658.9 L517.1 657.4 L517.7 658.5 L518.3 657.7 L518.8 658.5 L519.4 657.7 L519.9 658.3 L520.5 657.5 L521.1 658.8 L521.6 657.4 L522.2 658.4 L522.7 655.5 L523.3 658.7 L523.8 657.4 L524.4 658.4 L525.0 657.1 L525.5 658.8 L526.1 657.2 L526.6 658.3 L527.2 660.1 L527.8 658.6 L528.3 657.4 L528.9 658.1 L529.4 657.5 L530.0 658.1 L530.6 657.0 L531.1 658.4 L531.7 656.8 L532.2 658.3 L532.8 657.5 L533.3 658.2 L533.9 656.8 L534.5 658.3 L535.0 656.7 L535.6 655.2 L536.1 657.1 L536.7 658.3 L537.3 657.1 L537.8 658.2 L538.4 656.6 L538.9 658.5 L539.5 656.8 L540.1 658.2 L540.6 659.8 L541.2 658.8 L541.7 654.5 L542.3 651.8 L542.8 653.8 L543.4 658.9 L544.0 653.1 L544.5 657.8 L545.1 650.1 L545.6 661.0 L546.2 653.9 L546.8 658.7 L547.3 655.0 L547.9 657.9 L548.4 654.8 L549.0 658.9 L549.6 655.7 L550.1 657.6 L550.7 654.5 L551.2 658.4 L551.8 652.4 L552.3 654.3 L552.9 659.8 L553.5 660.0 L554.0 655.3 L554.6 659.0 L555.1 656.3 L555.7 658.7 L556.3 656.2 L556.8 659.2 L557.4 656.1 L557.9 651.4 L558.5 655.9 L559.1 659.5 L559.6 654.4 L560.2 659.6 L560.7 655.7 L561.3 659.3 L561.8 655.1 L562.4 657.8 L563.0 655.3 L563.5 659.7 L564.1 654.6 L564.6 661.5 L565.2 652.4 L565.8 658.6 L566.3 653.2 L566.9 657.8 L567.4 652.8 L568.0 657.7 L568.6 653.8 L569.1 658.3 L569.7 652.3 L570.2 660.1 L570.8 654.0 L571.3 658.0 L571.9 653.6 L572.5 659.7 L573.0 651.3 L573.6 660.5 L574.1 651.4 L574.7 649.3 L575.3 662.3 L575.8 658.0 L576.4 650.9 L576.9 658.9 L577.5 653.8 L578.1 660.2 L578.6 652.1 L579.2 658.4 L579.7 654.2 L580.3 659.3 L580.8 654.5 L581.4 657.5 L582.0 653.2 L582.5 651.8 L583.1 653.6 L583.6 657.8 L584.2 653.8 L584.8 653.0 L585.3 659.8 L585.9 657.3 L586.4 654.6 L587.0 657.3 L587.6 654.7 L588.1 657.1 L588.7 659.1 L589.2 657.9 L589.8 659.9 L590.3 658.2 L590.9 653.5 L591.5 657.7 L592.0 654.8 L592.6 651.6 L593.1 653.1 L593.7 657.7 L594.3 654.2 L594.8 651.8 L595.4 659.0 L595.9 656.2 L596.5 653.7 L597.1 657.6 L597.6 654.8 L598.2 657.6 L598.7 654.2 L599.3 657.4 L599.8 654.1 L600.4 657.6 L601.0 654.5 L601.5 657.5 L602.1 654.5 L602.6 659.0 L603.2 655.1 L603.8 657.1 L604.3 658.5 L604.9 657.4 L605.4 655.2 L606.0 657.2 L606.6 655.9 L607.1 657.5 L607.7 658.5 L608.2 656.7 L608.8 650.0 L609.3 652.4 L609.9 641.6 L610.5 650.0 L611.0 633.1 L611.6 657.8 L612.1 639.6 L612.7 657.5 L613.3 633.8 L613.8 650.0 L614.4 631.3 L614.9 629.4 L615.5 657.8 L616.1 646.4 L616.6 637.3 L617.2 625.8 L617.7 637.8 L618.3 626.1 L618.8 657.8 L619.4 650.1 L620.0 639.7 L620.5 656.4 L621.1 642.4 L621.6 656.6 L622.2 640.6 L622.8 657.8 L623.3 644.0 L623.9 656.8 L624.4 645.6 L625.0 657.8 L625.6 648.1 L626.1 654.4 L626.7 651.8 L627.2 655.9 L627.8 650.8 L628.3 650.6 L628.9 657.8 L629.5 655.0 L630.0 650.0 L630.6 656.5 L631.1 648.8 L631.7 656.7 L632.3 649.9 L632.8 654.0 L633.4 645.6 L633.9 657.8 L634.5 657.8 L635.1 655.3 L635.6 644.9 L636.2 653.3 L636.7 645.9 L637.3 652.1 L637.8 645.0 L638.4 641.8 L639.0 657.3 L639.5 656.9 L640.1 644.9 L640.6 654.1 L641.2 646.3 L641.8 655.5 L642.3 648.2 L642.9 656.7 L643.4 648.1 L644.0 657.8 L644.6 651.7 L645.1 655.0 L645.7 653.3 L646.2 655.4 L646.8 653.3 L647.3 656.4 L647.9 654.8 L648.5 656.6 L649.0 655.4 L649.6 656.7 L650.1 655.5 L650.7 656.2 L651.3 654.3 L651.8 656.6 L652.4 654.0 L652.9 656.3 L653.5 651.5 L654.1 656.4 L654.6 652.1 L655.2 655.2 L655.7 652.6 L656.3 648.4 L656.8 649.3 L657.4 657.8 L658.0 650.2 L658.5 654.8 L659.1 650.4 L659.6 656.1 L660.2 649.4 L660.8 656.7 L661.3 657.9 L661.9 646.8 L662.4 657.8 L663.0 653.7 L663.6 649.6 L664.1 654.3 L664.7 647.5 L665.2 654.2 L665.8 648.0 L666.3 654.1 L666.9 648.4 L667.5 656.7 L668.0 647.3 L668.6 656.0 L669.1 648.3 L669.7 656.0 L670.3 647.7 L670.8 644.4 L671.4 649.3 L671.9 645.6 L672.5 657.8 L673.1 654.5 L673.6 650.3 L674.2 655.1 L674.7 657.8 L675.3 656.0 L675.8 651.4 L676.4 656.6 L677.0 651.8 L677.5 657.8 L678.1 653.2 L678.6 655.2 L679.2 651.8 L679.8 655.0 L680.3 651.0 L680.9 647.8 L681.4 650.8 L682.0 648.6 L682.6 657.8 L683.1 655.1 L683.7 650.2 L684.2 654.2 L684.8 650.0 L685.3 656.7 L685.9 650.3 L686.5 655.2 L687.0 648.8 L687.6 654.0 L688.1 649.6 L688.7 656.3 L689.3 650.3 L689.8 654.8 L690.4 650.9 L690.9 657.3 L691.5 645.4 L692.1 654.1 L692.6 659.0 L693.2 646.8 L693.7 658.5 L694.3 657.2 L694.8 650.5 L695.4 655.7 L696.0 651.6 L696.5 656.2 L697.1 653.6 L697.6 658.4 L698.2 654.6 L698.8 657.4 L699.3 655.1 L699.9 657.2 L700.4 655.6 L701.0 657.1 L701.6 655.3 L702.1 657.5 L702.7 655.9 L703.2 656.9 L703.8 655.9 L704.3 657.3 L704.9 655.3 L705.5 657.4 L706.0 655.3 L706.6 657.0 L707.1 656.0 L707.7 656.9 L708.3 655.8 L708.8 657.3 L709.4 655.3 L709.9 652.5 L710.5 655.6 L711.1 657.5 L711.6 655.4 L712.2 657.4 L712.7 655.3 L713.3 657.1 L713.8 655.3 L714.4 657.5 L715.0 654.9 L715.5 656.8 L716.1 654.0 L716.6 656.9 L717.2 653.3 L717.8 656.7 L718.3 652.3 L718.9 655.8 L719.4 651.0 L720.0 656.3 L720.6 650.0 L721.1 656.0 L721.7 649.0 L722.2 655.8 L722.8 646.7 L723.3 656.8 L723.9 650.5 L724.5 645.6 L725.0 657.8 L725.6 655.7 L726.1 647.1 L726.7 656.7 L727.3 649.6 L727.8 656.8 L728.4 645.1 L728.9 654.7 L729.5 644.8 L730.1 655.4 L730.6 643.1 L731.2 657.8 L731.7 644.9 L732.3 641.9 L732.8 647.0 L733.4 652.4 L734.0 645.8 L734.5 655.3 L735.1 645.5 L735.6 654.2 L736.2 658.5 L736.8 656.4 L737.3 646.2 L737.9 655.1 L738.4 646.6 L739.0 653.9 L739.6 649.3 L740.1 655.7 L740.7 650.9 L741.2 656.2 L741.8 647.4 L742.3 657.5 L742.9 646.8 L743.5 658.5 L744.0 651.3 L744.6 655.3 L745.1 650.3 L745.7 656.3 L746.3 650.5 L746.8 657.4 L747.4 652.0 L747.9 656.3 L748.5 653.3 L749.1 657.6 L749.6 653.0 L750.2 657.8 L750.7 653.0 L751.3 656.8 L751.8 655.2 L752.4 657.7 L753.0 655.3 L753.5 657.8 L754.1 655.5 L754.6 657.6 L755.2 655.6 L755.8 658.0 L756.3 655.0 L756.9 658.1 L757.4 654.6 L758.0 657.3 L758.6 654.9 L759.1 657.7 L759.7 654.0 L760.2 652.8 L760.8 659.2 L761.3 656.7 L761.9 653.4 L762.5 657.6 L763.0 654.2 L763.6 650.0 L764.1 652.2 L764.7 657.6 L765.3 652.0 L765.8 649.4 L766.4 652.4 L766.9 657.9 L767.5 648.5 L768.1 656.9 L768.6 650.2 L769.2 648.7 L769.7 659.2 L770.3 656.1 L770.8 652.3 L771.4 656.3 L772.0 652.7 L772.5 656.8 L773.1 650.9 L773.6 658.1 L774.2 650.1 L774.8 658.0 L775.3 652.6 L775.9 655.3 L776.4 649.1 L777.0 655.7 L777.6 650.8 L778.1 657.6 L778.7 650.6 L779.2 658.2 L779.8 652.0 L780.3 657.8 L780.9 649.7 L781.5 659.2 L782.0 651.6 L782.6 657.9 L783.1 651.9 L783.7 657.1 L784.3 652.3 L784.8 651.0 L785.4 652.7 L785.9 656.8 L786.5 653.0 L787.0 657.1 L787.6 654.5 L788.2 657.3 L788.7 654.3 L789.3 656.7 L789.8 654.4 L790.4 657.1 L791.0 654.7 L791.5 657.1 L792.1 657.8 L792.6 657.1 L793.2 654.9 L793.8 656.5 L794.3 654.6 L794.9 656.9 L795.4 654.7 L796.0 657.5 L796.5 654.9 L797.1 657.0 L797.7 654.2 L798.2 657.3 L798.8 654.9 L799.3 658.7 L799.9 658.6 L800.5 657.2 L801.0 654.4 L801.6 657.3 L802.1 653.7 L802.7 658.7 L803.3 653.6 L803.8 657.0 L804.4 654.2 L804.9 657.0 L805.5 654.7 L806.0 651.3 L806.6 653.1 L807.2 658.1 L807.7 653.2 L808.3 651.8 L808.8 659.2 L809.4 656.3 L810.0 654.1 L810.5 658.0 L811.1 650.5 L811.6 656.3 L812.2 653.0 L812.8 657.9 L813.3 653.1 L813.9 657.0 L814.4 653.2 L815.0 656.2 L815.5 654.3 L816.1 657.4 L816.7 652.9 L817.2 657.3 L817.8 653.0 L818.3 656.7 L818.9 654.5 L819.5 657.3 L820.0 653.7 L820.6 655.7 L821.1 654.0 L821.7 657.0 L822.3 653.9 L822.8 651.8 L823.4 658.2 L823.9 655.9 L824.5 654.2 L825.0 655.8 L825.6 654.6 L826.2 656.8 L826.7 654.2 L827.3 656.7 L827.8 654.6 L828.4 656.0 L829.0 653.9 L829.5 656.5 L830.1 654.8 L830.6 656.3 L831.2 652.7 L831.8 656.2 L832.3 654.6 L832.9 656.9 L833.4 655.0 L834.0 657.1 L834.5 654.4 L835.1 653.0 L835.7 655.0 L836.2 656.5 L836.8 654.2 L837.3 657.1 L837.9 655.2 L838.5 656.8 L839.0 655.2 L839.6 657.0 L840.1 655.3 L840.7 657.2 L841.3 654.7 L841.8 657.0 L842.4 655.1 L842.9 657.1 L843.5 654.9 L844.0 656.6 L844.6 653.5 L845.2 657.2 L845.7 655.0 L846.3 657.1 L846.8 655.1 L847.4 656.7 L848.0 655.2 L848.5 656.8 L849.1 658.8 L849.6 657.1 L850.2 655.4 L850.8 657.2 L851.3 655.4 L851.9 656.8 L852.4 655.6 L853.0 656.8 L853.5 655.5 L854.1 657.1 L854.7 656.1 L855.2 656.6 L855.8 655.9 L856.3 656.7 L856.9 655.8 L857.5 656.9 L858.0 656.0 L858.6 654.3 L859.1 653.2 L859.7 658.0 L860.3 656.2 L860.8 657.1 L861.4 655.9 L861.9 657.0 L862.5 655.6 L863.0 652.1 L863.6 655.0 L864.2 656.5 L864.7 657.8 L865.3 656.2 L865.8 654.1 L866.4 656.2 L867.0 651.0 L867.5 656.8 L868.1 658.3 L868.6 657.0 L869.2 654.4 L869.8 656.8 L870.3 652.9 L870.9 655.7 L871.4 652.7 L872.0 656.8 L872.5 652.7 L873.1 650.7 L873.7 658.2 L874.2 648.9 L874.8 652.7 L875.3 657.1 L875.9 652.2 L876.5 657.1 L877.0 653.7 L877.6 656.7 L878.1 648.9 L878.7 656.6 L879.3 657.9 L879.8 656.4 L880.4 653.2 L880.9 657.1 L881.5 651.8 L882.0 656.7 L882.6 650.9 L883.2 657.2 L883.7 653.6 L884.3 657.0 L884.8 653.6 L885.4 656.7 L886.0 653.2 L886.5 655.7 L887.1 652.3 L887.6 656.6 L888.2 653.0 L888.8 656.7 L889.3 653.8 L889.9 656.2 L890.4 653.4 L891.0 656.2 L891.5 652.1 L892.1 656.5 L892.7 651.9 L893.2 657.1 L893.8 650.7 L894.3 658.2 L894.9 651.9 L895.5 655.3 L896.0 653.5 L896.6 656.1 L897.1 652.4 L897.7 656.4 L898.3 652.7 L898.8 657.2 L899.4 653.9 L899.9 655.9 L900.5 652.6 L901.0 655.4 L901.6 652.6 L902.2 656.9 L902.7 653.2 L903.3 656.1 L903.8 652.8 L904.4 657.0 L905.0 652.5 L905.5 656.5 L906.1 652.7 L906.6 656.6 L907.2 653.2 L907.8 656.4 L908.3 652.8 L908.9 657.1 L909.4 654.2 L910.0 656.2 L910.5 654.2 L911.1 655.5 L911.7 653.3 L912.2 655.9 L912.8 653.7 L913.3 655.6 L913.9 653.0 L914.5 657.0 L915.0 653.7 L915.6 656.6 L916.1 652.8 L916.7 651.8 L917.3 658.2 L917.8 651.6 L918.4 652.7 L918.9 656.4 L919.5 653.1 L920.0 656.2 L920.6 652.4 L921.2 655.5 L921.7 653.9 L922.3 656.0 L922.8 652.9 L923.4 656.1 L924.0 653.2 L924.5 657.1 L925.1 652.4 L925.6 656.1 L926.2 652.3 L926.8 655.6 L927.3 651.6 L927.9 657.9 L928.4 652.7 L929.0 657.1 L929.5 652.9 L930.1 657.0 L930.7 651.7 L931.2 657.2 L931.8 652.5 L932.3 655.2 L932.9 652.1 L933.5 649.7 L934.0 658.2 L934.6 656.5 L935.1 652.5 L935.7 654.9 L936.3 649.7 L936.8 657.5 L937.4 659.0 L937.9 657.6 L938.5 650.8 L939.0 647.4 L939.6 648.5 L940.2 658.8 L940.7 646.6 L941.3 659.2 L941.8 651.1 L942.4 657.8 L943.0 648.4 L943.5 647.6 L944.1 650.5 L944.6 657.1 L945.2 651.0 L945.8 657.4 L946.3 629.4 L946.9 657.5 L947.4 651.8 L948.0 655.3 L948.5 653.2 L949.1 656.3 L949.7 651.3 L950.2 657.4 L950.8 652.8 L951.3 655.5 L951.9 652.4 L952.5 657.3 L953.0 658.4 L953.6 655.7 L954.1 653.6 L954.7 651.8 L955.3 658.2 L955.8 657.2 L956.4 653.5 L956.9 656.0 L957.5 658.4 L958.0 657.3 L958.6 650.1 L959.2 657.3 L959.7 653.6 L960.3 651.9 L960.8 653.2 L961.4 656.7 L962.0 653.2 L962.5 656.5 L963.1 653.3 L963.6 657.6 L964.2 653.5 L964.8 656.8 L965.3 658.2 L965.9 656.1 L966.4 654.6 L967.0 657.7 L967.5 654.6 L968.1 656.9 L968.7 653.9 L969.2 657.7 L969.8 654.4 L970.3 657.4 L970.9 653.6 L971.5 657.6 L972.0 654.2 L972.6 658.1 L973.1 654.7 L973.7 658.0 L974.3 655.3 L974.8 651.7 L975.4 652.8 L975.9 659.2 L976.5 654.2 L977.0 658.0 L977.6 654.6 L978.2 659.7 L978.7 654.1 L979.3 657.1 L979.8 654.4 L980.4 657.5 L981.0 654.5 L981.5 657.2 L982.1 654.3 L982.6 657.7 L983.2 654.8 L983.8 657.3 L984.3 654.5 L984.9 657.4 L985.4 655.6 L986.0 656.9 L986.5 654.7 L987.1 657.1 L987.7 655.7 L988.2 656.7 L988.8 655.5 L989.3 656.7 L989.9 655.7 L990.5 656.7 L991.0 652.2 L991.6 656.3 L992.1 655.1 L992.7 656.9 L993.3 655.3 L993.8 656.4 L994.4 655.1 L994.9 656.8 L995.5 655.1 L996.0 657.0 L996.6 655.5 L997.2 653.3 L997.7 658.2 L998.3 656.8 L998.8 655.2 L999.4 657.1 L1000.0 655.9 L1000.5 656.8 L1001.1 655.5 L1001.6 657.1 L1002.2 655.6 L1002.8 657.1 L1003.3 656.0 L1003.9 657.0 L1004.4 655.9 L1005.0 657.0 L1005.5 655.4 L1006.1 656.6 L1006.7 655.6 L1007.2 657.2 L1007.8 655.8 L1008.3 656.6 L1008.9 656.0 L1009.5 656.8 L1010.0 655.6 L1010.6 656.6 L1011.1 656.2 L1011.7 653.9 L1012.3 658.6 L1012.8 656.7 L1013.4 655.7 L1013.9 657.2 L1014.5 656.0 L1015.0 656.8 L1015.6 655.9 L1016.2 657.0 L1016.7 655.9 L1017.3 656.8 L1017.8 654.3 L1018.4 653.4 L1019.0 656.0 L1019.5 656.8 L1020.1 656.1 L1020.6 657.1 L1021.2 655.9 L1021.8 657.0 L1022.3 657.9 L1022.9 657.1 L1023.4 655.7 L1024.0 657.1 L1024.5 653.3 L1025.1 657.1 L1025.7 655.2 L1026.2 657.0 L1026.8 655.7 L1027.3 652.3 L1027.9 652.7 L1028.5 656.3 L1029.0 654.9 L1029.6 657.1 L1030.1 654.8 L1030.7 656.2 L1031.3 647.6 L1031.8 656.6 L1032.4 654.7 L1032.9 656.3 L1033.5 653.8 L1034.0 657.1 L1034.6 654.1 L1035.2 656.8 L1035.7 653.6 L1036.3 655.7 L1036.8 654.6 L1037.4 656.9 L1038.0 652.9 L1038.5 651.8 L1039.1 658.2 L1039.6 656.2 L1040.2 658.3 L1040.8 656.5 L1041.3 653.2 L1041.9 658.8 L1042.4 654.7 L1043.0 657.0 L1043.5 654.5 L1044.1 656.7 L1044.7 654.2 L1045.2 656.0 L1045.8 654.4 L1046.3 656.1 L1046.9 654.7 L1047.5 656.6 L1048.0 654.6 L1048.6 656.4 L1049.1 655.0 L1049.7 657.0 L1050.3 654.6 L1050.8 656.4 L1051.4 654.9 L1051.9 656.4 L1052.5 655.7 L1053.0 657.2 L1053.6 655.0 L1054.2 653.0 L1054.7 655.2 L1055.3 656.6 L1055.8 655.3 L1056.4 657.1 L1057.0 654.4 L1057.5 657.1 L1058.1 654.0 L1058.6 656.1 L1059.2 652.7 L1059.8 657.1 L1060.3 654.1 L1060.9 656.6 L1061.4 654.0 L1062.0 651.5 L1062.5 654.6 L1063.1 656.6 L1063.7 654.0 L1064.2 658.3 L1064.8 653.7 L1065.3 655.5 L1065.9 650.9 L1066.5 655.6 L1067.0 654.1 L1067.6 657.0 L1068.1 653.1 L1068.7 655.6 L1069.3 652.7 L1069.8 656.1 L1070.4 652.7 L1070.9 656.0 L1071.5 652.7 L1072.0 656.1 L1072.6 652.1 L1073.2 656.5 L1073.7 651.9 L1074.3 657.0 L1074.8 652.4 L1075.4 657.1 L1076.0 651.4 L1076.5 655.7 L1077.1 651.0 L1077.6 656.0 L1078.2 649.7 L1078.8 658.2 L1079.3 652.3 L1079.9 655.2 L1080.4 651.7 L1081.0 657.1 L1081.5 651.9 L1082.1 655.2 L1082.7 652.2 L1083.2 656.8 L1083.8 651.5 L1084.3 656.4 L1084.9 652.2 L1085.5 657.1 L1086.0 652.9 L1086.6 656.1 L1087.1 652.5 L1087.7 657.2 L1088.3 652.3 L1088.8 657.0 L1089.4 652.7 L1089.9 656.7 L1090.5 652.3 L1091.0 656.5 L1091.6 652.5 L1092.2 655.4 L1092.7 651.7 L1093.3 657.1 L1093.8 654.4 L1094.4 657.1 L1095.0 651.8 L1095.5 658.2 L1096.1 652.5 L1096.6 656.9 L1097.2 653.9 L1097.8 657.1 L1098.3 652.6 L1098.9 656.7 L1099.4 652.5 L1100.0 655.6 L1100.5 653.0 L1101.1 656.1 L1101.7 648.3 L1102.2 657.8 L1102.8 648.2 L1103.3 649.7 L1103.9 659.2 L1104.5 656.5 L1105.0 652.0 L1105.6 656.2 L1106.1 652.7 L1106.7 648.3 L1107.3 650.4 L1107.8 658.1 L1108.4 650.6 L1108.9 656.5 L1109.5 650.5 L1110.0 648.6 L1110.6 652.8 L1111.2 657.6 L1111.7 650.7 L1112.3 658.8 L1112.8 650.4 L1113.4 657.9 L1114.0 652.0 L1114.5 658.8 L1115.1 650.5 L1115.6 658.9 L1116.2 649.8 L1116.8 657.1 L1117.3 651.2 L1117.9 648.7 L1118.4 660.3 L1119.0 656.5 L1119.5 649.3 L1120.1 655.4 L1120.7 659.5 L1121.2 656.6 L1121.8 649.1 L1122.3 656.8 L1122.9 650.0 L1123.5 656.0 L1124.0 648.1 L1124.6 653.7 L1125.1 648.5 L1125.7 656.1 L1126.3 647.5 L1126.8 655.0 L1127.4 648.5 L1127.9 654.7 L1128.5 647.0 L1129.0 655.5 L1129.6 646.7 L1130.2 654.7 L1130.7 646.7 L1131.3 652.1 L1131.8 646.3 L1132.4 652.3 L1133.0 646.7 L1133.5 653.1 L1134.1 647.8 L1134.6 644.5 L1135.2 655.0 L1135.8 653.9 L1136.3 649.0 L1136.9 653.8 L1137.4 655.1 L1138.0 653.5 L1138.5 647.9 L1139.1 654.4 L1139.7 650.6 L1140.2 653.4 L1140.8 649.6 L1141.3 655.2 L1141.9 649.9 L1142.5 654.0 L1143.0 650.8 L1143.6 654.7 L1144.1 651.9 L1144.7 654.2 L1145.3 652.0 L1145.8 650.6 L1146.4 652.6 L1146.9 654.4 L1147.5 653.3 L1148.0 654.6 L1148.6 653.6 L1149.2 654.7 L1149.7 653.1 L1150.3 654.5 L1150.8 653.4 L1151.4 654.4 L1152.0 653.3 L1152.5 654.7 L1153.1 653.5 L1153.6 654.5 L1154.2 652.1 L1154.8 654.9 L1155.3 653.7 L1155.9 654.6 L1156.4 654.0 L1157.0 654.6 L1157.5 653.8 L1158.1 654.2 L1158.7 652.8 L1159.2 654.1 L1159.8 650.8 L1160.3 652.7 L1160.9 646.8 L1161.5 646.6 L1162.0 654.0 L1162.6 651.8 L1163.1 645.8 L1163.7 651.5 L1164.3 648.8 L1164.8 652.0 L1165.4 648.5 L1165.9 652.4 L1166.5 648.8 L1167.0 653.6 L1167.6 650.5 L1168.2 653.8 L1168.7 649.6 L1169.3 653.3 L1169.8 648.7 L1170.4 655.0 L1171.0 649.8 L1171.5 652.9 L1172.1 650.6 L1172.6 652.6 L1173.2 649.5 L1173.8 654.4 L1174.3 649.2 L1174.9 651.9 L1175.4 649.2 L1176.0 652.0 L1176.5 646.1 L1177.1 651.6 L1177.7 649.8 L1178.2 647.6 L1178.8 654.0 L1179.3 652.5 L1179.9 648.6 L1180.5 652.2 L1181.0 644.5 L1181.6 650.4 L1182.1 646.3 L1182.7 651.6 L1183.3 646.3 L1183.8 649.2 L1184.4 652.4 L1184.9 650.7 L1185.5 644.7 L1186.0 651.0 L1186.6 642.4 L1187.2 651.9 L1187.7 643.4 L1188.3 648.3 L1188.8 642.7 L1189.4 650.4 L1190.0 644.8 L1190.5 650.4 L1191.1 642.7 L1191.6 647.3 L1192.2 642.9 L1192.8 648.4 L1193.3 643.4 L1193.9 649.1 L1194.4 642.7 L1195.0 649.8 L1195.5 637.7 L1196.1 648.9 L1196.7 642.9 L1197.2 649.5 L1197.8 641.3 L1198.3 648.6 L1198.9 641.1 L1199.5 637.8 L1200.0 650.8 L1200.6 645.9 L1201.1 641.2 L1201.7 649.4 L1202.2 641.0 L1202.8 636.0 L1203.4 636.0 L1203.9 649.2 L1204.5 641.0 L1205.0 646.0 L1205.6 638.4 L1206.2 645.5 L1206.7 638.6 L1207.3 648.8 L1207.8 637.2 L1208.4 649.8 L1209.0 639.2 L1209.5 638.5 L1210.1 640.9 L1210.6 647.8 L1211.2 641.9 L1211.7 648.7 L1212.3 642.4 L1212.9 646.8 L1213.4 649.5 L1214.0 648.0 L1214.5 645.3 L1215.1 648.3 L1215.7 645.2 L1216.2 643.4 L1216.8 649.8 L1217.3 649.0 L1217.9 645.8 L1218.5 647.9 L1219.0 644.8 L1219.6 649.4 L1220.1 650.6 L1220.7 649.8 L1221.2 645.1 L1221.8 649.0 L1222.4 645.3 L1222.9 648.6 L1223.5 646.0 L1224.0 651.9 L1224.6 645.7 L1225.2 649.9 L1225.7 646.1 L1226.3 650.5 L1226.8 646.4 L1227.4 649.3 L1228.0 647.1 L1228.5 650.9 L1229.1 647.3 L1229.6 653.3 L1230.2 646.7 L1230.7 644.5 L1231.3 652.9 L1231.9 651.1 L1232.4 646.5 L1233.0 651.9 L1233.5 648.4 L1234.1 650.2 L1234.7 648.2 L1235.2 652.8 L1235.8 648.9 L1236.3 651.5 L1236.9 647.8 L1237.5 653.2 L1238.0 645.1 L1238.6 653.1 L1239.1 647.7 L1239.7 653.6 L1240.2 647.5 L1240.8 645.6 L1241.4 646.6 L1241.9 655.0 L1242.5 649.6 L1243.0 654.8 L1243.6 647.5 L1244.2 653.8 L1244.7 648.7 L1245.3 653.4 L1245.8 648.4 L1246.4 652.0 L1247.0 646.9 L1247.5 644.2 L1248.1 647.1 L1248.6 652.0 L1249.2 647.2 L1249.7 653.0 L1250.3 647.4 L1250.9 644.5 L1251.4 646.4 L1252.0 653.0 L1252.5 646.9 L1253.1 650.7 L1253.7 647.2 L1254.2 651.2 L1254.8 647.2 L1255.3 652.4 L1255.9 647.3 L1256.5 652.9 L1257.0 646.6 L1257.6 651.9 L1258.1 644.5 L1258.7 654.0 L1259.2 647.8 L1259.8 645.5 L1260.4 652.9 L1260.9 650.3 L1261.5 646.9 L1262.0 652.8 L1262.6 647.2 L1263.2 651.8 L1263.7 647.8 L1264.3 650.9 L1264.8 648.8 L1265.4 650.6 L1266.0 647.8 L1266.5 651.9 L1267.1 648.2 L1267.6 651.6 L1268.2 649.4 L1268.7 647.1 L1269.3 648.4 L1269.9 651.9 L1270.4 648.4 L1271.0 651.4 L1271.5 648.6 L1272.1 651.8 L1272.7 647.6 L1273.2 652.9 L1273.8 648.4 L1274.3 651.1 L1274.9 648.0 L1275.5 651.9 L1276.0 647.6 L1276.6 651.5 L1277.1 648.8 L1277.7 651.6 L1278.2 648.8 L1278.8 650.7 L1279.4 646.7 L1279.9 651.4 L1280.5 647.2 L1281.0 651.7 L1281.6 647.2 L1282.2 651.1 L1282.7 647.0 L1283.3 651.5 L1283.8 646.5 L1284.4 650.2 L1285.0 645.4 L1285.5 650.0 L1286.1 642.6 L1286.6 650.8 L1287.2 643.4 L1287.7 652.9 L1288.3 652.9 L1288.9 649.6 L1289.4 644.6 L1290.0 650.1 L1290.5 645.6 L1291.1 651.7 L1291.7 645.4 L1292.2 651.0 L1292.8 647.2 L1293.3 651.2 L1293.9 644.9 L1294.5 650.3 L1295.0 645.8 L1295.6 651.6 L1296.1 646.2 L1296.7 642.2 L1297.2 646.7 L1297.8 651.9 L1298.4 645.3 L1298.9 651.7 L1299.5 646.1 L1300.0 651.6 L1300.6 645.6 L1301.2 650.6 L1301.7 644.5 L1302.3 652.9 L1302.8 652.5 L1303.4 651.6 L1304.0 645.7 L1304.5 650.8 L1305.1 645.8 L1305.6 651.3 L1306.2 645.1 L1306.7 651.3 L1307.3 647.0 L1307.9 650.8 L1308.4 645.0 L1309.0 649.7 L1309.5 646.7 L1310.1 650.3 L1310.7 644.6 L1311.2 650.7 L1311.8 644.7 L1312.3 649.1 L1312.9 645.9 L1313.5 650.3 L1314.0 645.8 L1314.6 649.8 L1315.1 645.7 L1315.7 640.9 L1316.2 644.8 L1316.8 649.6 L1317.4 644.6 L1317.9 648.4 L1318.5 642.4 L1319.0 650.8 L1319.6 645.6 L1320.2 647.9 L1320.7 643.2 L1321.3 648.2 L1321.8 644.3 L1322.4 647.8 L1323.0 644.0 L1323.5 647.6 L1324.1 643.0 L1324.6 649.0 L1325.2 643.1 L1325.7 649.0 L1326.3 640.4 L1326.9 648.6 L1327.4 643.6 L1328.0 647.8 L1328.5 642.6 L1329.1 648.9 L1329.7 642.5 L1330.2 647.7 L1330.8 642.5 L1331.3 641.3 L1331.9 649.8 L1332.5 648.2 L1333.0 640.6 L1333.6 639.3 L1334.1 642.2 L1334.7 646.5 L1335.2 641.8 L1335.8 646.2 L1336.4 642.1 L1336.9 646.4 L1337.5 647.3 L1338.0 646.0 L1338.6 642.5 L1339.2 633.0 L1339.7 646.7 L1340.3 646.0 L1340.8 641.8 L1341.4 647.0 L1342.0 642.0 L1342.5 647.6 L1343.1 643.9 L1343.6 648.4 L1344.2 644.9 L1344.7 648.2 L1345.3 643.2 L1345.9 650.9 L1346.4 643.2 L1347.0 649.7 L1347.5 643.7 L1348.1 642.4 L1348.7 651.9 L1349.2 650.7 L1349.8 644.2 L1350.3 649.5 L1350.9 644.6 L1351.5 642.6 L1352.0 647.3 L1352.6 651.9 L1353.1 646.1 L1353.7 652.2 L1354.2 648.0 L1354.8 651.5 L1355.4 647.3 L1355.9 652.2 L1356.5 647.5 L1357.0 653.8 L1357.6 647.9 L1358.2 652.7 L1358.7 650.2 L1359.3 654.2 L1359.8 648.9 L1360.4 647.6 L1361.0 656.1 L1361.5 654.6 L1362.1 649.7 L1362.6 653.3 L1363.2 648.7 L1363.7 653.7 L1364.3 648.4 L1364.9 653.3 L1365.4 648.3 L1366.0 644.3 L1366.5 648.3 L1367.1 651.8 L1367.7 648.2 L1368.2 651.1 L1368.8 645.5 L1369.3 654.0 L1369.9 646.7 L1370.5 650.0 L1371.0 643.9 L1371.6 643.6 L1372.1 647.2 L1372.7 650.3 L1373.2 645.3 L1373.8 649.0 L1374.4 644.8 L1374.9 649.0 L1375.5 644.9 L1376.0 648.8 L1376.6 645.2 L1377.2 636.1 L1377.7 649.8 L1378.3 648.9 L1378.8 644.1 L1379.4 648.2 L1380.0 643.8 L1380.5 649.1 L1381.1 644.0 L1381.6 649.4 L1382.2 645.8 L1382.7 648.6 L1383.3 645.6 L1383.9 642.1 L1384.4 645.9 L1385.0 649.3 L1385.5 645.3 L1386.1 652.8 L1386.7 645.4 L1387.2 649.1 L1387.8 644.3 L1388.3 652.0 L1388.9 646.7 L1389.5 643.4 L1390.0 654.0 L1390.6 651.8 L1391.1 647.3 L1391.7 651.4 L1392.2 645.3 L1392.8 651.3 L1393.4 644.4 L1393.9 649.9 L1394.5 646.2 L1395.0 649.6 L1395.6 644.4 L1396.2 652.0 L1396.7 644.4 L1397.3 650.8 L1397.8 645.0 L1398.4 650.2 L1399.0 644.4 L1399.5 651.2 L1400.1 644.0 L1400.6 651.8 L1401.2 645.7 L1401.7 649.4 L1402.3 643.9 L1402.9 650.5 L1403.4 643.9 L1404.0 651.7 L1404.5 643.9 L1405.1 649.5 L1405.7 643.5 L1406.2 642.4 L1406.8 652.9 L1407.3 650.7 L1407.9 646.2 L1408.5 648.8 L1409.0 646.4 L1409.6 650.5 L1410.1 646.6 L1410.7 648.9 L1411.2 653.0 L1411.8 649.6 L1412.4 645.9 L1412.9 651.5 L1413.5 653.6 L1414.0 651.5 L1414.6 646.1 L1415.2 649.3 L1415.7 644.8 L1416.3 651.8 L1416.8 643.6 L1417.4 651.9 L1418.0 641.3 L1418.5 650.7 L1419.1 642.4 L1419.6 652.9 L1420.2 645.3 L1420.7 641.7 L1421.3 644.5 L1421.9 651.1 L1422.4 643.9 L1423.0 652.0 L1423.5 646.4 L1424.1 651.4 L1424.7 644.4 L1425.2 651.4 L1425.8 645.4 L1426.3 653.3 L1426.9 636.1 L1427.5 652.1 L1428.0 645.5 L1428.6 651.4 L1429.1 647.1 L1429.7 652.1 L1430.2 647.0 L1430.8 651.7 L1431.4 646.7 L1431.9 651.8 L1432.5 646.3 L1433.0 651.9 L1433.6 645.9 L1434.2 651.2 L1434.7 645.7 L1435.3 651.1 L1435.8 646.6 L1436.4 643.6 L1437.0 648.1 L1437.5 652.9 L1438.1 644.5 L1438.6 654.0 L1439.2 645.7 L1439.7 652.3 L1440.3 647.0 L1440.9 650.4 L1441.4 645.7 L1442.0 653.2 L1442.5 645.9 L1443.1 651.7 L1443.7 645.8 L1444.2 652.7 L1444.8 646.5 L1445.3 652.6 L1445.9 646.9 L1446.5 651.3 L1447.0 646.0 L1447.6 652.2 L1448.1 647.0 L1448.7 651.6 L1449.2 647.3 L1449.8 653.5 L1450.4 646.6 L1450.9 653.1 L1451.5 643.5 L1452.0 652.5 L1452.6 647.1 L1453.2 653.5 L1453.7 647.0 L1454.3 653.7 L1454.8 644.7 L1455.4 651.4 L1456.0 649.0 L1456.5 651.5 L1457.1 647.9 L1457.6 653.3 L1458.2 647.3 L1458.7 645.5 L1459.3 655.0 L1459.9 653.7 L1460.4 647.7 L1461.0 653.4 L1461.5 648.8 L1462.1 653.3 L1462.7 647.1 L1463.2 653.5 L1463.8 646.4 L1464.3 654.0 L1464.9 646.2 L1465.5 653.8 L1466.0 646.5 L1466.6 651.6 L1467.1 646.5 L1467.7 651.7 L1468.2 647.2 L1468.8 653.9 L1469.4 646.0 L1469.9 652.4 L1470.5 646.6 L1471.0 651.2 L1471.6 647.2 L1472.2 651.8 L1472.7 648.5 L1473.3 644.5 L1473.8 642.6 L1474.4 654.0 L1475.0 643.7 L1475.5 644.5 L1476.1 655.0 L1476.6 644.5 L1477.2 645.5 L1477.7 653.2 L1478.3 645.8 L1478.9 652.8 L1479.4 646.1 L1480.0 653.9 L1480.5 643.7 L1481.1 654.0 L1481.7 647.1 L1482.2 653.2 L1482.8 646.6 L1483.3 651.6 L1483.9 645.5 L1484.5 643.0 L1485.0 645.7 L1485.6 653.3 L1486.1 643.4 L1486.7 655.0 L1487.2 647.6 L1487.8 652.9 L1488.4 645.0 L1488.9 653.8 L1489.5 647.7 L1490.0 652.7 L1490.6 645.4 L1491.2 654.2 L1491.7 648.1 L1492.3 654.2 L1492.8 646.4 L1493.4 645.0 L1494.0 648.4 L1494.5 654.0 L1495.1 655.6 L1495.6 652.6 L1496.2 647.9 L1496.7 645.1 L1497.3 649.4 L1497.9 652.6 L1498.4 647.8 L1499.0 654.6 L1499.5 649.2 L1500.1 652.8 L1500.7 646.6 L1501.2 656.1 L1501.8 647.8 L1502.3 652.7 L1502.9 648.5 L1503.5 653.2 L1504.0 647.7 L1504.6 652.5 L1505.1 649.6 L1505.7 654.1 L1506.2 650.3 L1506.8 646.2 L1507.4 648.3 L1507.9 655.0 L1508.5 649.8 L1509.0 653.7 L1509.6 650.3 L1510.2 655.0 L1510.7 649.8 L1511.3 654.8 L1511.8 647.6 L1512.4 653.2 L1513.0 649.4 L1513.5 654.6 L1514.1 648.2 L1514.6 654.8 L1515.2 648.5 L1515.7 653.0 L1516.3 648.8 L1516.9 654.5 L1517.4 647.6 L1518.0 645.6 L1518.5 649.0 L1519.1 655.1 L1519.7 648.7 L1520.2 655.1 L1520.8 647.6 L1521.3 646.6 L1521.9 656.1 L1522.5 654.6 L1523.0 644.5 L1523.6 654.5 L1524.1 650.0 L1524.7 653.9 L1525.2 649.3 L1525.8 654.7 L1526.4 649.1 L1526.9 653.8 L1527.5 647.5 L1528.0 653.2 L1528.6 649.0 L1529.2 654.5 L1529.7 648.5 L1530.3 654.2 L1530.8 648.3 L1531.4 653.4 L1532.0 647.9 L1532.5 654.5 L1533.1 647.6 L1533.6 644.1 L1534.2 648.0 L1534.7 653.4 L1535.3 647.5 L1535.9 651.7 L1536.4 648.0 L1537.0 652.9 L1537.5 649.6 L1538.1 654.2 L1538.7 646.8 L1539.2 652.5 L1539.8 655.0 L1540.3 653.0 L1540.9 655.6 L1541.5 644.3 L1542.0 648.6 L1542.6 645.5 L1543.1 655.0 L1543.7 653.4 L1544.2 647.7 L1544.8 652.8 L1545.4 645.4 L1545.9 649.8 L1546.5 641.5 L1547.0 650.8 L1547.6 645.3 L1548.2 649.9 L1548.7 643.7 L1549.3 649.1 L1549.8 643.0 L1550.4 647.6 L1551.0 645.1 L1551.5 649.3 L1552.1 643.6 L1552.6 646.6 L1553.2 643.2 L1553.7 647.8 L1554.3 638.0 L1554.9 639.2 L1555.4 648.7 L1556.0 646.7 L1556.5 642.7 L1557.1 647.9 L1557.7 642.8 L1558.2 640.2 L1558.8 644.1 L1559.3 649.6 L1559.9 644.6 L1560.5 650.3 L1561.0 646.1 L1561.6 649.3 L1562.1 647.9 L1562.7 651.6 L1563.2 646.6 L1563.8 652.9 L1564.4 647.6 L1564.9 651.3 L1565.5 648.5 L1566.0 651.9 L1566.6 646.9 L1567.2 651.3 L1567.7 648.4 L1568.3 644.3 L1568.8 646.4 L1569.4 651.8 L1570.0 647.9 L1570.5 650.7 L1571.1 646.2 L1571.6 652.5 L1572.2 645.7 L1572.7 651.2 L1573.3 645.8 L1573.9 650.6 L1574.4 647.1 L1575.0 653.9 L1575.5 645.0 L1576.1 651.0 L1576.7 654.1 L1577.2 652.8 L1577.8 643.4 L1578.3 654.0 L1578.9 644.5 L1579.5 652.5 L1580.0 644.9 L1580.6 650.5 L1581.1 645.5 L1581.7 652.9 L1582.2 644.8 L1582.8 651.0 L1583.4 645.1 L1583.9 650.5 L1584.5 647.1 L1585.0 649.9 L1585.6 645.9 L1586.2 652.2 L1586.7 643.5 L1587.3 652.5 L1587.8 645.1 L1588.4 653.0 L1589.0 646.0 L1589.5 652.8 L1590.1 645.4 L1590.6 652.9 L1591.2 644.2 L1591.7 652.8 L1592.3 645.9 L1592.9 651.1 L1593.4 647.7 L1594.0 652.9 L1594.5 644.5 L1595.1 654.0 L1595.7 646.0 L1596.2 653.1 L1596.8 646.1 L1597.3 652.1 L1597.9 642.9 L1598.5 652.9 L1599.0 646.9 L1599.6 653.0 L1600.1 646.9 L1600.7 652.5 L1601.2 647.5 L1601.8 652.9 L1602.4 647.3 L1602.9 650.5 L1603.5 646.1 L1604.0 652.5 L1604.6 644.7 L1605.2 653.6 L1605.7 647.2 L1606.3 650.8 L1606.8 646.4 L1607.4 653.7 L1608.0 645.3 L1608.5 650.2 L1609.1 645.5 L1609.6 654.4 L1610.2 644.0 L1610.7 641.9 L1611.3 642.4 L1611.9 655.0 L1612.4 644.7 L1613.0 653.2 L1613.5 644.1 L1614.1 653.2 L1614.7 643.6 L1615.2 653.7 L1615.8 645.3 L1616.3 652.7 L1616.9 643.5 L1617.4 653.1 L1618.0 646.6 L1618.6 652.8 L1619.1 646.6 L1619.7 651.0 L1620.2 645.9 L1620.8 651.2 L1621.4 644.4 L1621.9 651.4 L1622.5 646.9 L1623.0 653.0 L1623.6 643.5 L1624.2 649.7 L1624.7 653.8 L1625.3 652.1 L1625.8 642.4 L1626.4 654.0 L1626.9 646.1 L1627.5 651.6 L1628.1 644.9 L1628.6 651.0 L1629.2 647.1 L1629.7 650.8 L1630.3 644.8 L1630.9 651.5 L1631.4 645.2 L1632.0 641.9 L1632.5 648.0 L1633.1 653.2 L1633.7 648.2 L1634.2 651.4 L1634.8 647.4 L1635.3 653.5 L1635.9 655.2 L1636.4 653.5 L1637.0 643.6 L1637.6 653.0 L1638.1 647.7 L1638.7 651.4 L1639.2 646.7 L1639.8 652.7 L1640.4 649.0 L1640.9 644.9 L1641.5 649.2 L1642.0 653.8 L1642.6 646.6 L1643.2 655.0 L1643.7 644.9 L1644.3 653.1 L1644.8 649.4 L1645.4 653.8 L1645.9 650.0 L1646.5 653.8 L1647.1 648.7 L1647.6 654.1 L1648.2 649.4 L1648.7 652.7 L1649.3 646.6 L1649.9 652.9 L1650.4 649.2 L1651.0 655.1 L1651.5 647.9 L1652.1 655.1 L1652.7 649.5 L1653.2 654.4 L1653.8 649.2 L1654.3 647.4 L1654.9 651.0 L1655.4 654.2 L1656.0 650.5 L1656.6 654.1 L1657.1 656.9 L1657.7 648.7 L1658.2 657.1 L1658.8 655.8 L1659.4 649.7 L1659.9 656.0 L1660.5 650.9 L1661.0 654.4 L1661.6 650.1 L1662.2 648.1 L1662.7 647.7 L1663.3 654.5 L1663.8 649.7 L1664.4 655.2 L1664.9 650.2 L1665.5 655.0 L1666.1 649.5 L1666.6 655.3 L1667.2 650.3 L1667.7 654.9 L1668.3 649.8 L1668.9 655.1 L1669.4 650.7 L1670.0 655.0 L1670.5 648.8 L1671.1 655.2 L1671.7 649.6 L1672.2 654.9 L1672.8 650.7 L1673.3 654.4 L1673.9 648.4 L1674.4 653.4 L1675.0 646.5 L1675.6 654.0 L1676.1 647.8 L1676.7 654.7 L1677.2 649.3 L1677.8 655.1 L1678.4 646.6 L1678.9 656.1 L1679.5 649.1 L1680.0 654.9 L1680.6 647.8 L1681.2 654.9 L1681.7 649.1 L1682.3 653.9 L1682.8 656.6 L1683.4 654.1 L1683.9 648.3 L1684.5 654.6 L1685.1 648.0 L1685.6 653.1 L1686.2 649.8 L1686.7 654.8 L1687.3 648.2 L1687.9 653.2 L1688.4 647.6 L1689.0 653.2 L1689.5 648.9 L1690.1 653.2 L1690.7 649.5 L1691.2 654.7 L1691.8 645.9 L1692.3 653.2 L1692.9 649.5 L1693.4 654.6 L1694.0 649.2 L1694.6 653.5 L1695.1 649.5 L1695.7 655.6 L1696.2 648.8 L1696.8 653.7 L1697.4 649.5 L1697.9 653.7 L1698.5 648.6 L1699.0 652.7 L1699.6 646.6 L1700.2 656.1 L1700.7 649.2 L1701.3 653.7 L1701.8 649.2 L1702.4 654.4 L1702.9 647.9 L1703.5 654.7 L1704.1 648.7 L1704.6 654.2 L1705.2 649.6 L1705.7 653.6 L1706.3 648.4 L1706.9 645.8 L1707.4 649.0 L1708.0 645.0 L1708.5 648.1 L1709.1 656.2 L1709.7 645.2 L1710.2 654.2 L1710.8 649.5 L1711.3 656.0 L1711.9 648.8 L1712.4 655.0 L1713.0 648.4 L1713.6 654.4 L1714.1 648.3 L1714.7 645.6 L1715.2 649.0 L1715.8 653.6 L1716.4 647.6 L1716.9 655.0 L1717.5 649.8 L1718.0 655.1 L1718.6 649.0 L1719.2 654.8 L1719.7 647.6 L1720.3 646.6 L1720.8 656.1 L1721.4 653.5 L1721.9 648.2 L1722.5 653.5 L1723.1 648.4 L1723.6 654.1 L1724.2 648.7 L1724.7 652.5 L1725.3 648.5 L1725.9 654.8 L1726.4 648.6 L1727.0 652.9 L1727.5 648.3 L1728.1 653.1 L1728.7 647.0 L1729.2 653.5 L1729.8 647.3 L1730.3 654.3 L1730.9 648.2 L1731.4 652.1 L1732.0 646.7 L1732.6 645.5 L1733.1 656.1 L1733.7 654.2 L1734.2 648.1 L1734.8 653.0 L1735.4 647.2 L1735.9 653.7 L1736.5 645.7 L1737.0 653.1 L1737.6 646.5 L1738.2 652.8 L1738.7 644.2 L1739.3 651.1 L1739.8 643.6 L1740.4 648.7 L1740.9 643.8 L1741.5 651.1 L1742.1 644.4 L1742.6 648.2 L1743.2 642.9 L1743.7 650.2 L1744.3 642.8 L1744.9 649.8 L1745.4 640.3 L1746.0 650.8 L1746.5 641.8 L1747.1 650.1 L1747.7 651.8 L1748.2 649.8 L1748.8 643.4 L1749.3 649.9 L1749.9 644.9 L1750.4 650.2 L1751.0 644.3 L1751.6 648.5 L1752.1 645.5 L1752.7 650.1 L1753.2 646.2 L1753.8 649.4 L1754.4 644.6 L1754.9 652.2 L1755.5 645.2 L1756.0 652.3 L1756.6 645.0 L1757.2 652.8 L1757.7 644.5 L1758.3 654.0 L1758.8 648.6 L1759.4 651.5 L1759.9 646.6 L1760.5 655.0 L1761.1 649.2 L1761.6 653.1 L1762.2 648.0 L1762.7 654.4 L1763.3 648.5 L1763.9 654.4 L1764.4 649.0 L1765.0 653.2 L1765.5 656.2 L1766.1 653.6 L1766.7 650.6 L1767.2 653.3 L1767.8 648.5 L1768.3 647.6 L1768.9 656.1 L1769.4 656.3 L1770.0 648.6 L1770.6 654.7 L1771.1 647.7 L1771.7 654.0 L1772.2 649.5 L1772.8 655.1 L1773.4 648.2 L1773.9 654.9 L1774.5 649.2 L1775.0 655.1 L1775.6 646.1 L1776.2 652.6 L1776.7 648.1 L1777.3 653.6 L1777.8 642.4 L1778.4 652.2 L1778.9 643.4 L1779.5 656.1 L1780.1 645.6 L1780.6 655.0 L1781.2 646.3 L1781.7 653.8 L1782.3 646.0 L1782.9 653.6 L1783.4 648.2 L1784.0 653.6 L1784.5 648.8 L1785.1 653.6 L1785.7 649.5 L1786.2 654.8 L1786.8 649.4 L1787.3 654.9 L1787.9 649.5 L1788.4 654.1 L1789.0 650.9 L1789.6 653.4 L1790.1 650.9 L1790.7 654.8 L1791.2 648.7 L1791.8 656.1 L1792.4 650.0 L1792.9 653.9 L1793.5 649.9 L1794.0 655.0 L1794.6 651.0 L1795.2 653.3 L1795.7 650.3 L1796.3 648.7 L1796.8 651.6 L1797.4 653.2 L1797.9 651.0 L1798.5 654.1 L1799.1 650.3 L1799.6 653.9 L1800.2 650.1 L1800.7 654.2 L1801.3 650.8 L1801.9 654.2 L1802.4 650.3 L1803.0 654.1 L1803.5 650.7 L1804.1 654.4 L1804.7 651.5 L1805.2 653.6 L1805.8 650.4 L1806.3 653.8 L1806.9 651.2 L1807.4 655.0 L1808.0 650.5 L1808.6 655.0 L1809.1 652.1 L1809.7 654.0 L1810.2 652.2 L1810.8 653.7 L1811.4 652.1 L1811.9 654.9 L1812.5 649.7 L1813.0 656.1 L1813.6 651.0 L1814.2 653.6 L1814.7 651.8 L1815.3 654.1 L1815.8 650.5 L1816.4 654.3 L1816.9 652.0 L1817.5 654.5 L1818.1 651.0 L1818.6 655.1 L1819.2 651.0 L1819.7 654.7 L1820.3 650.3 L1820.9 654.8 L1821.4 648.3 L1822.0 654.9 L1822.5 651.0 L1823.1 654.2 L1823.7 655.8 L1824.2 653.8 L1824.8 648.7 L1825.3 656.1 L1825.9 650.5 L1826.4 653.4 L1827.0 650.2 L1827.6 655.0 L1828.1 650.4 L1828.7 654.7 L1829.2 650.3 L1829.8 655.0 L1830.4 651.1 L1830.9 647.5 L1831.5 649.4 L1832.0 655.1 L1832.6 649.5 L1833.2 656.8 L1833.7 649.6 L1834.3 653.5 L1834.8 649.7 L1835.4 653.3 L1835.9 651.0 L1836.5 654.6 L1837.1 649.3 L1837.6 656.4 L1838.2 650.2 L1838.7 653.3 L1839.3 649.9 L1839.9 655.3 L1840.4 649.0 L1841.0 653.7 L1841.5 656.7 L1842.1 655.2 L1842.7 648.9 L1843.2 655.4 L1843.8 648.9 L1844.3 655.8 L1844.9 648.8 L1845.4 655.8 L1846.0 650.2 L1846.6 655.5 L1847.1 648.8 L1847.7 655.6 L1848.2 647.1 L1848.8 656.8 L1849.4 648.9 L1849.9 647.6 L1850.5 657.1 L1851.0 654.6 L1851.6 649.7 L1852.2 656.1 L1852.7 649.1 L1853.3 656.0 L1853.8 649.4 L1854.4 656.0 L1854.9 651.5 L1855.5 655.5 L1856.1 649.6 L1856.6 655.3 L1857.2 646.8 L1857.7 656.6 L1858.3 650.6 L1858.9 648.2 L1859.4 651.7 L1860.0 655.4 L1860.5 650.2 L1861.1 653.8 L1861.7 650.8 L1862.2 654.6 L1862.8 650.3 L1863.3 654.2 L1863.9 652.3 L1864.4 654.1 L1865.0 651.3 L1865.6 654.3 L1866.1 650.4 L1866.7 656.0 L1867.2 656.9 L1867.8 655.1 L1868.4 650.9 L1868.9 649.7 L1869.5 657.1 L1870.0 655.1 L1870.6 651.2 L1871.2 655.9 L1871.7 650.7 L1872.3 655.9 L1872.8 651.3 L1873.4 655.2 L1873.9 651.2 L1874.5 655.3 L1875.1 651.0 L1875.6 655.9 L1876.2 651.3 L1876.7 655.2 L1877.3 651.5 L1877.9 655.1 L1878.4 651.7 L1879.0 647.8 L1879.5 652.7 L1880.1 655.9 L1880.7 651.2 L1881.2 655.4 L1881.8 652.2 L1882.3 657.3 L1882.9 652.5 L1883.4 654.2 L1884.0 650.9 L1884.6 654.6 L1885.1 651.4 L1885.7 656.1 L1886.2 650.7 L1886.8 655.6 L1887.4 650.8 L1887.9 655.5 L1888.5 650.8 L1889.0 655.7 L1889.6 650.7 L1890.2 656.0 L1890.7 651.9 L1891.3 655.9 L1891.8 652.1 L1892.4 655.9 L1892.9 650.8 L1893.5 655.0 L1894.1 649.7 L1894.6 657.1 L1895.2 651.5 L1895.7 655.8 L1896.3 651.3 L1896.9 657.6 L1897.4 651.7 L1898.0 656.0 L1898.5 652.8 L1899.1 648.5 L1899.7 652.2 L1900.2 655.1 L1900.8 652.0 L1901.3 655.4 L1901.9 652.1 L1902.4 655.7 L1903.0 651.9 L1903.6 655.2 L1904.1 652.5 L1904.7 654.9 L1905.2 652.4 L1905.8 655.0 L1906.4 653.5 L1906.9 655.3 L1907.5 652.7 L1908.0 655.8 L1908.6 653.4 L1909.2 656.1 L1909.7 653.0 L1910.3 655.7 L1910.8 651.8 L1911.4 657.1 L1911.9 652.6 L1912.5 656.0 L1913.1 653.6 L1913.6 656.1 L1914.2 652.6 L1914.7 655.2 L1915.3 653.5 L1915.9 654.9 L1916.4 649.1 L1917.0 649.1 L1917.5 652.7 L1918.1 655.1 L1918.7 652.6 L1919.2 655.3 L1919.8 652.0 L1920.3 654.9 L1920.9 651.5 L1921.4 655.2 L1922.0 651.4 L1922.6 655.0 L1923.1 651.5 L1923.7 654.6 L1924.2 651.2 L1924.8 654.8 L1925.4 651.8 L1925.9 656.1 L1926.5 650.9 L1927.0 654.8 L1927.6 649.7 L1928.2 657.1 L1928.7 650.9 L1929.3 655.5 L1929.8 657.2 L1930.4 654.5 L1930.9 651.6 L1931.5 654.9 L1932.1 651.6 L1932.6 654.7 L1933.2 652.9 L1933.7 655.5 L1934.3 653.1 L1934.9 655.1 L1935.4 652.8 L1936.0 655.3 L1936.5 651.9 L1937.1 654.7 L1937.7 652.3 L1938.2 655.4 L1938.8 652.6 L1939.3 654.8 L1939.9 652.4 L1940.4 656.1 L1941.0 649.4 L1941.6 654.7 L1942.1 657.1 L1942.7 656.1 L1943.2 652.8 L1943.8 655.5 L1944.4 653.5 L1944.9 655.7 L1945.5 653.9 L1946.0 655.2 L1946.6 653.0 L1947.2 655.0 L1947.7 653.5 L1948.3 651.8 L1948.8 657.1 L1949.4 655.2 L1949.9 652.6 L1950.5 655.3 L1951.1 652.8 L1951.6 656.0 L1952.2 652.5 L1952.7 655.7 L1953.3 657.5 L1953.9 650.8 L1954.4 651.9 L1955.0 650.1 L1955.5 652.8 L1956.1 655.9 L1956.7 652.7 L1957.2 654.7 L1957.8 651.2 L1958.3 654.5 L1958.9 652.8 L1959.4 655.4 L1960.0 651.2 L1960.6 649.7 L1961.1 657.1 L1961.7 654.8 L1962.2 651.7 L1962.8 654.1 L1963.4 650.1 L1963.9 653.2 L1964.5 649.8 L1965.0 653.5 L1965.6 648.7 L1966.2 653.4 L1966.7 648.2 L1967.3 652.2 L1967.8 648.3 L1968.4 651.8 L1968.9 646.1 L1969.5 654.0 L1970.1 648.0 L1970.6 653.4 L1971.2 650.0 L1971.7 653.8 L1972.3 649.9 L1972.9 652.9 L1973.4 650.9 L1974.0 655.3 L1974.5 650.4 L1975.1 655.1 L1975.7 650.9 L1976.2 655.4 L1976.8 651.7 L1977.3 650.7 L1977.9 657.1 L1978.4 655.1 L1979.0 650.6 L1979.6 654.1 L1980.1 649.9 L1980.7 646.9 L1981.2 649.6 L1981.8 655.5 L1982.4 649.0 L1982.9 654.3 L1983.5 649.5 L1984.0 656.9 L1984.6 648.2 L1985.2 644.5 L1985.7 658.2 L1986.3 655.6 L1986.8 646.5 L1987.4 656.8 L1987.9 649.3 L1988.5 654.6 L1989.1 646.1 L1989.6 655.3 L1990.2 650.5 L1990.7 657.2 L1991.3 648.7 L1991.9 659.2 L1992.4 645.5 L1993.0 659.2 L1993.5 650.8 L1994.1 658.5 L1994.7 648.3 L1995.2 657.4 L1995.8 649.0 L1996.3 646.0 L1996.9 648.8 L1997.4 656.0 L1998.0 650.6 L1998.6 655.0 L1999.1 650.6 L1999.7 655.1 L2000.2 649.9 L2000.8 648.7 L2001.4 657.1 L2001.9 648.3 L2002.5 649.4 L2003.0 656.0 L2003.6 649.8 L2004.2 653.4 L2004.7 649.0 L2005.3 655.1 L2005.8 647.6 L2006.4 653.5 L2006.9 648.4 L2007.5 653.7 L2008.1 648.7 L2008.6 654.0 L2009.2 648.1 L2009.7 653.9 L2010.3 650.8 L2010.9 646.6 L2011.4 657.1 L2012.0 652.8 L2012.5 647.9 L2013.1 654.3 L2013.7 647.8 L2014.2 653.3 L2014.8 647.9 L2015.3 653.4 L2015.9 648.4 L2016.4 655.0 L2017.0 654.6 L2017.6 652.0 L2018.1 648.6 L2018.7 651.9 L2019.2 645.5 L2019.8 652.9 L2020.4 646.9 L2020.9 644.4 L2021.5 647.5 L2022.0 650.7 L2022.6 643.9 L2023.2 649.3 L2023.7 645.7 L2024.3 650.5 L2024.8 644.5 L2025.4 651.9 L2025.9 646.9 L2026.5 651.3 L2027.1 648.0 L2027.6 643.8 L2028.2 648.5 L2028.7 652.0 L2029.3 648.3 L2029.9 646.6 L2030.4 654.0 L2031.0 653.2 L2031.5 648.0 L2032.1 653.4 L2032.6 648.6 L2033.2 653.6 L2033.8 649.6 L2034.3 645.7 L2034.9 647.3 L2035.4 653.4 L2036.0 645.4 L2036.6 652.7 L2037.1 648.3 L2037.7 651.8 L2038.2 647.4 L2038.8 652.6 L2039.4 648.1 L2039.9 654.8 L2040.5 645.5 L2041.0 656.1 L2041.6 647.9 L2042.1 655.2 L2042.7 649.6 L2043.3 653.3 L2043.8 648.3 L2044.4 656.8 L2044.9 646.7 L2045.5 653.7 L2046.1 651.0 L2046.6 655.3 L2047.2 647.5 L2047.7 655.0 L2048.3 649.9 L2048.9 655.5 L2049.4 650.3 L2050.0 655.8 L2050.5 651.8 L2051.1 657.6 L2051.6 651.3 L2052.2 656.0 L2052.8 650.7 L2053.3 657.1 L2053.9 652.7 L2054.4 654.9 L2055.0 653.0 L2055.6 655.5 L2056.1 649.8 L2056.7 654.4 L2057.2 657.1 L2057.8 655.0 L2058.4 648.2 L2058.9 657.7 L2059.5 650.2 L2060.0 655.9 L2060.6 650.2 L2061.1 655.3 L2061.7 651.0 L2062.3 653.7 L2062.8 648.0 L2063.4 655.3 L2063.9 650.8 L2064.5 654.8 L2065.1 649.8 L2065.6 645.9 L2066.2 657.4 L2066.7 656.1 L2067.3 648.6 L2067.9 655.4 L2068.4 650.1 L2069.0 656.6 L2069.5 646.6 L2070.1 657.1 L2070.6 648.3 L2071.2 645.9 L2071.8 649.0 L2072.3 655.1 L2072.9 649.4 L2073.4 653.3 L2074.0 647.1 L2074.6 653.8 L2075.1 648.4 L2075.7 656.0 L2076.2 649.9 L2076.8 645.8 L2077.4 649.1 L2077.9 654.2 L2078.5 650.4 L2079.0 656.4 L2079.6 649.4 L2080.1 648.1 L2080.7 649.8 L2081.3 656.4 L2081.8 651.6 L2082.4 656.0 L2082.9 650.6 L2083.5 654.5 L2084.1 648.7 L2084.6 658.2 L2085.2 652.4 L2085.7 657.0 L2086.3 647.7 L2086.9 655.0 L2087.4 647.9 L2088.0 654.6 L2088.5 651.7 L2089.1 656.1 L2089.6 652.1 L2090.2 656.7 L2090.8 651.9 L2091.3 656.6 L2091.9 652.1 L2092.4 655.8 L2093.0 652.4 L2093.6 655.0 L2094.1 651.4 L2094.7 656.2 L2095.2 652.3 L2095.8 655.1 L2096.4 651.7 L2096.9 655.9 L2097.5 652.7 L2098.0 655.7 L2098.6 652.2 L2099.1 655.0 L2099.7 652.2 L2100.3 655.8 L2100.8 653.3 L2101.4 655.0 L2101.9 653.5 L2102.5 655.8 L2103.1 651.8 L2103.6 657.1 L2104.2 653.0 L2104.7 655.6 L2105.3 652.5 L2105.9 649.7 L2106.4 652.3 L2107.0 655.4 L2107.5 652.6 L2108.1 655.5 L2108.6 652.1 L2109.2 655.4 L2109.8 651.7 L2110.3 655.3 L2110.9 649.5 L2111.4 649.0 L2112.0 649.3 L2112.6 650.1 L2113.1 656.4 L2113.7 654.1 L2114.2 651.5 L2114.8 655.1 L2115.4 651.8 L2115.9 649.7 L2116.5 656.1 L2117.0 655.1 L2117.6 650.9 L2118.1 653.9 L2118.7 651.1 L2119.3 654.5 L2119.8 652.6 L2120.4 654.1 L2120.9 655.6 L2121.5 650.0 L2122.1 652.3 L2122.6 654.6 L2123.2 652.1 L2123.7 655.0 L2124.3 652.2 L2124.9 655.0 L2125.4 651.7 L2126.0 650.7 L2126.5 656.1 L2127.1 654.8 L2127.6 651.2 L2128.2 654.5 L2128.8 651.3 L2129.3 649.7 L2129.9 655.4 L2130.4 651.8 L2131.0 647.3 L2131.6 650.8 L2132.1 643.4 L2132.7 650.8 L2133.2 642.5 L2133.8 648.0 L2134.4 645.3 L2134.9 647.7 L2135.5 644.5 L2136.0 646.0 L2136.6 642.4 L2137.1 647.7 L2137.7 642.9 L2138.3 646.9 L2138.8 641.9 L2139.4 646.9 L2139.9 638.8 L2140.5 645.2 L2141.1 642.2 L2141.6 638.6 L2142.2 648.7 L2142.7 649.4 L2143.3 648.8 L2143.9 649.7 L2144.4 658.2 L2145.0 656.9 L2145.5 650.7 L2146.1 655.9 L2146.6 651.9 L2147.2 658.5 L2147.8 652.2 L2148.3 655.5 L2148.9 650.6 L2149.4 657.1 L2150.0 652.4 L2150.6 655.0 L2151.1 650.2 L2151.7 654.6 L2152.2 652.7 L2152.8 656.1 L2153.4 648.2 L2153.9 657.1 L2154.5 652.2 L2155.0 654.6 L2155.6 651.8 L2156.1 654.5 L2156.7 657.7 L2157.3 648.7 L2157.8 658.2 L2158.4 656.2 L2158.9 649.7 L2159.5 655.5 L2160.1 657.7 L2160.6 657.1 L2161.2 651.4 L2161.7 655.9 L2162.3 650.3 L2162.9 647.5 L2163.4 651.9 L2164.0 656.6 L2164.5 652.2 L2165.1 658.3 L2165.6 652.4 L2166.2 656.4 L2166.8 651.1 L2167.3 656.5 L2167.9 649.7 L2168.4 657.9 L2169.0 650.1 L2169.6 655.6 L2170.1 650.9 L2170.7 656.3 L2171.2 647.6 L2171.8 654.6 L2172.4 650.6 L2172.9 655.8 L2173.5 652.1 L2174.0 656.5 L2174.6 650.4 L2175.1 654.3 L2175.7 646.8 L2176.3 657.1 L2176.8 652.3 L2177.4 656.2 L2177.9 657.8 L2178.5 648.7 L2179.1 658.2 L2179.6 654.8 L2180.2 649.7 L2180.7 654.7 L2181.3 650.5 L2181.9 658.8 L2182.4 658.2 L2183.0 656.9 L2183.5 649.7 L2184.1 655.9 L2184.6 649.8 L2185.2 655.0 L2185.8 649.7 L2186.3 656.5 L2186.9 651.7 L2187.4 654.5 L2188.0 649.7 L2188.6 656.0 L2189.1 652.4 L2189.7 657.1 L2190.2 649.7 L2190.8 657.1 L2191.4 650.0 L2191.9 655.3 L2192.5 651.8 L2193.0 657.1 L2193.6 651.2 L2194.1 656.0 L2194.7 649.9 L2195.3 656.9 L2195.8 651.8 L2196.4 656.9 L2196.9 649.7 L2197.5 654.4 L2198.1 651.9 L2198.6 655.3 L2199.2 648.7 L2199.7 658.2 L2200.3 650.6 L2200.9 655.9 L2201.4 649.3 L2202.0 654.7 L2202.5 651.2 L2203.1 655.4 L2203.6 648.8 L2204.2 655.7 L2204.8 651.0 L2205.3 657.6 L2205.9 648.3 L2206.4 656.7 L2207.0 650.8 L2207.6 654.3 L2208.1 649.8 L2208.7 657.1 L2209.2 648.3 L2209.8 657.5 L2210.4 650.7 L2210.9 658.0 L2211.5 645.6 L2212.0 658.1 L2212.6 649.0 L2213.1 655.1 L2213.7 645.5 L2214.3 659.2 L2214.8 646.9 L2215.4 646.1 L2215.9 658.6 L2216.5 656.9 L2217.1 648.8 L2217.6 654.2 L2218.2 650.5 L2218.7 656.5 L2219.3 646.5 L2219.9 656.8 L2220.4 651.7 L2221.0 654.6 L2221.5 650.9 L2222.1 654.2 L2222.6 649.5 L2223.2 656.7 L2223.8 652.3 L2224.3 655.2 L2224.9 650.6 L2225.4 655.3 L2226.0 651.0 L2226.6 656.1 L2227.1 649.3 L2227.7 642.8 L2228.2 651.8 L2228.8 655.4 L2229.4 652.2 L2229.9 655.4 L2230.5 652.1 L2231.0 650.7 L2231.6 652.5 L2232.1 654.8 L2232.7 653.1 L2233.3 654.2 L2233.8 653.0 L2234.4 654.9 L2234.9 653.2 L2235.5 654.9" fill="none" stroke="#f08a88" stroke-width="4" stroke-linejoin="bevel" stroke-linecap="round"/>

<text x="32" y="70.3" font-size="33" font-weight="bold" letter-spacing="-0.2" style="fill:#f4f6f8">Transactions</text>
<rect x="2154.6" y="36" width="111" height="46" rx="14" fill="none" stroke="#343b46" stroke-width="2"/>
<text x="2169.5" y="67.3" font-size="28.5" letter-spacing="1.2" style="fill:#f4f6f8">All</text>
<path d="M2228.5 56.5 L2237 64 L2245.5 56.5" fill="none" stroke="#d8dce1" stroke-width="2.4" stroke-linecap="round" stroke-linejoin="round"/>
<rect x="2300.3" y="28" width="61.6" height="62" rx="14" fill="none" stroke="#343b46" stroke-width="2"/>
<g fill="none" stroke="#d8dce1" stroke-width="2.5"><path d="M2346 44.5 L2333.5 57.3 M2333.3 46.2 V57.5 H2344.5"/><path d="M2316.2 73.4 L2328.8 61.2 M2317.6 61 H2329 V72"/></g>
<rect x="0" y="0" width="1.5" height="2.5" fill="#2b333e"/>
<circle cx="43" cy="763" r="12" fill="#66f7fa"/><circle cx="242" cy="763" r="12" fill="#f08c8a"/>
<text x="71.3" y="770.5" font-size="24" letter-spacing="1.3" style="fill:#eef1f4">Successful</text>
<text x="269.5" y="770.5" font-size="24" letter-spacing="0.9" style="fill:#eef1f4">Failed</text>

</svg>
</body></html>
